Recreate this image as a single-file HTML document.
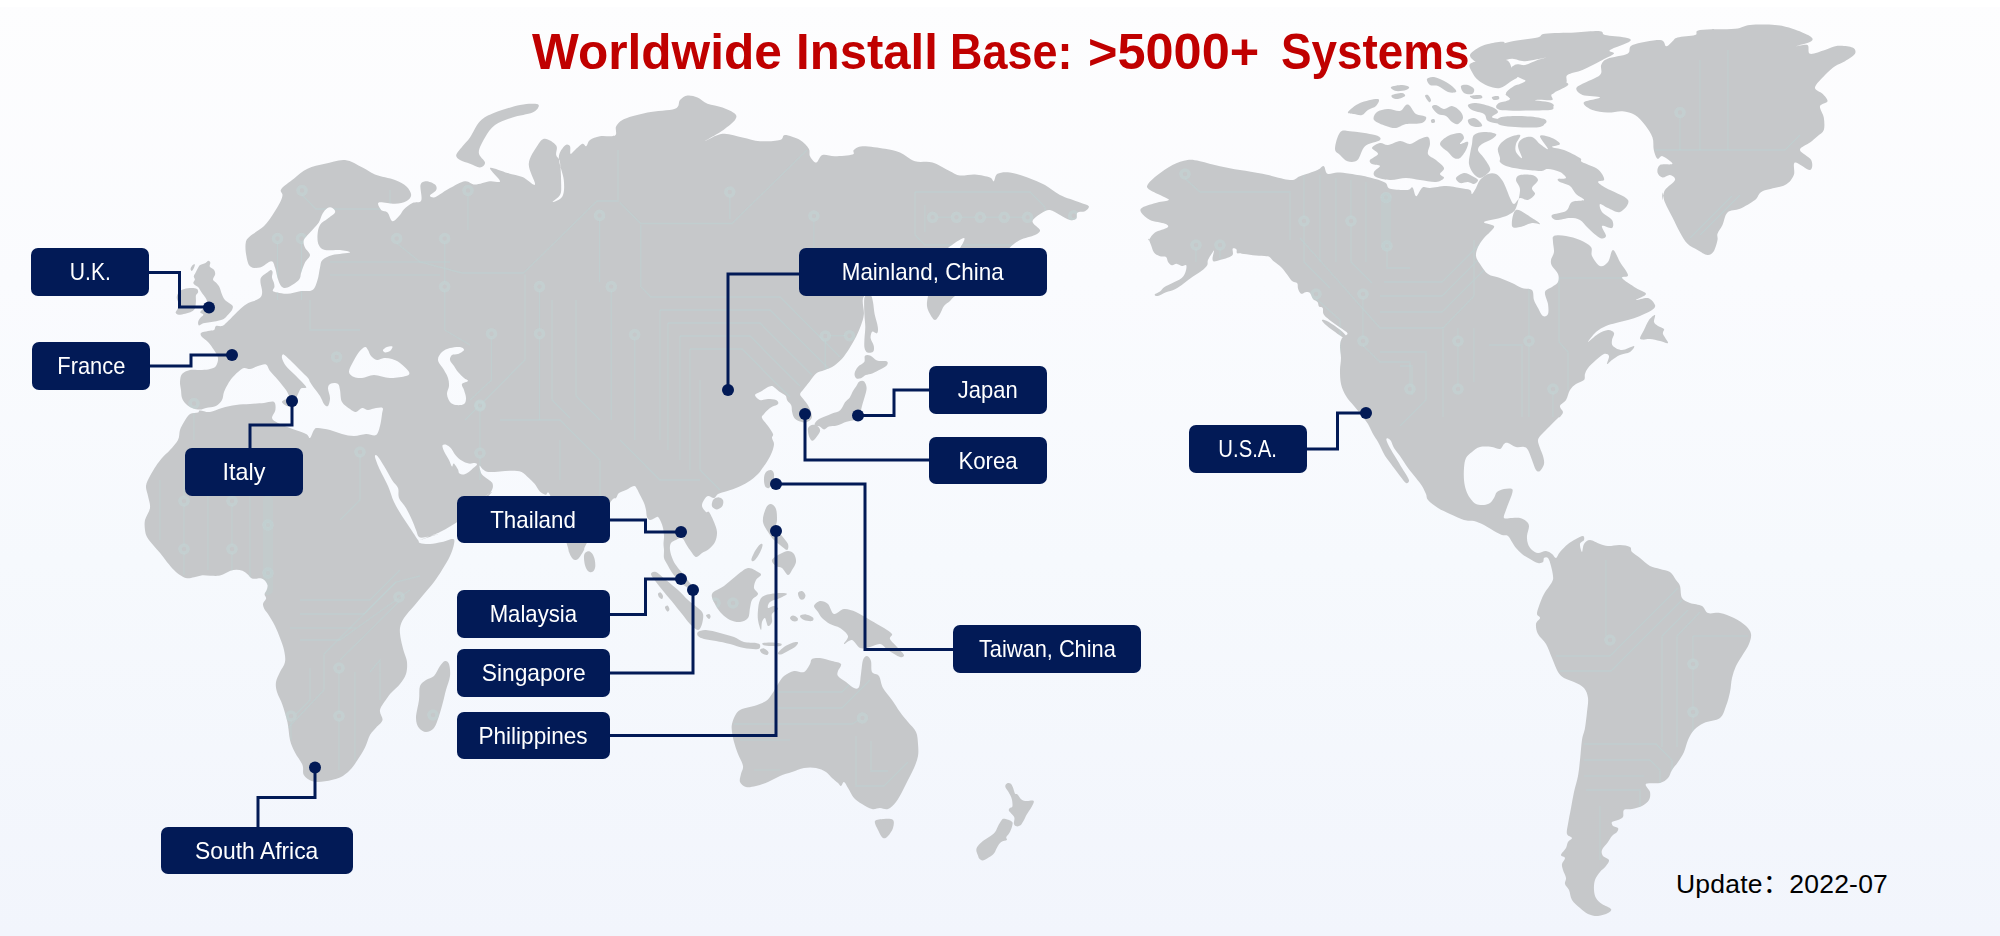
<!DOCTYPE html>
<html lang="en">
<head>
<meta charset="utf-8">
<title>Worldwide Install Base</title>
<style>
html,body{margin:0;padding:0;}
body{width:2000px;height:936px;overflow:hidden;position:relative;font-family:"Liberation Sans","Noto Sans CJK SC",sans-serif;
background:linear-gradient(180deg,#fdfdfe 0%,#fafbfe 30%,#f6f9fd 60%,#f2f5fc 100%);}
#map{position:absolute;left:0;top:0;width:2000px;height:936px;}
#title{position:absolute;left:0;top:22px;width:2000px;height:60px;line-height:60px;margin:0;font-size:50px;font-weight:bold;color:#c00000;white-space:nowrap;}
#title span{position:absolute;top:0;display:block;transform-origin:0 50%;}
.lb{position:absolute;background:#021a56;color:#fff;border-radius:7px;font-size:24px;text-align:center;white-space:nowrap;height:48px;line-height:48px;}
.lb span{display:inline-block;transform-origin:50% 50%;}
#upd{position:absolute;left:1676px;top:866px;font-size:26.5px;letter-spacing:0.2px;line-height:36px;color:#000;white-space:nowrap;}
</style>
</head>
<body>
<div id="topstrip" style="position:absolute;left:0;top:0;width:2000px;height:7px;background:#fff"></div>
<svg id="map" viewBox="0 0 2000 936">
<defs><mask id="lm" maskUnits="userSpaceOnUse" x="0" y="0" width="2000" height="936"><use href="#land" style="fill:#fff"/></mask></defs>
<g id="land" fill="#c6c8ca" stroke="none">
<!--LAND-->
<path fill-rule="evenodd" d="M226.9 322.2C229.0 320.4 232.1 317.1 234.4 314.8C236.7 312.5 238.5 310.3 240.8 308.4C243.1 306.4 245.6 304.4 248.3 303.0C250.9 301.6 254.7 300.9 256.8 299.8C258.9 298.7 260.2 298.0 261.1 296.6C262.0 295.2 262.2 293.6 262.1 291.3C262.1 289.0 260.7 285.0 260.5 282.7C260.4 280.4 260.1 279.0 261.1 277.4C262.1 275.8 264.8 274.4 266.4 273.1C268.0 271.9 269.7 270.1 270.7 269.9C271.7 269.7 272.4 270.8 272.6 272.0C272.8 273.3 271.8 275.6 272.0 277.4C272.2 279.2 273.5 281.1 273.9 282.7C274.3 284.3 274.6 285.7 274.4 287.0C274.3 288.3 272.3 289.8 272.8 290.7C273.3 291.7 275.1 292.0 277.5 292.5C279.9 293.0 283.8 294.0 287.5 293.8C291.2 293.5 295.8 291.9 300.0 291.2C304.2 290.6 309.6 291.9 312.5 290.0C315.4 288.1 316.2 283.8 317.5 280.0C318.8 276.2 319.2 270.8 320.0 267.5C320.8 264.2 320.4 262.1 322.5 260.0C324.6 257.9 327.9 256.2 332.5 255.0C337.1 253.8 348.8 253.3 350.0 252.5C351.2 251.7 344.2 250.4 340.0 250.0C335.8 249.6 328.5 250.8 325.0 250.0C321.5 249.2 320.0 247.5 318.8 245.0C317.5 242.5 317.3 238.3 317.5 235.0C317.7 231.7 318.3 227.7 320.0 225.0C321.7 222.3 325.0 220.8 327.5 218.8C330.0 216.7 334.2 214.3 335.0 212.5C335.8 210.7 333.8 208.8 332.5 208.0C331.2 207.2 329.2 207.0 327.5 208.0C325.8 209.0 324.0 211.3 322.5 213.8C321.0 216.2 320.8 219.4 318.8 222.5C316.7 225.6 312.5 229.6 310.0 232.5C307.5 235.4 304.6 237.5 303.8 240.0C302.9 242.5 304.0 245.0 305.0 247.5C306.0 250.0 310.0 252.5 310.0 255.0C310.0 257.5 306.5 259.6 305.0 262.5C303.5 265.4 302.3 269.6 301.2 272.5C300.2 275.4 301.0 277.5 298.8 280.0C296.5 282.5 290.4 286.5 287.5 287.5C284.6 288.5 282.9 287.9 281.2 286.2C279.6 284.6 278.5 280.6 277.5 277.5C276.5 274.4 276.0 270.2 275.0 267.5C274.0 264.8 273.8 261.2 271.2 261.2C268.8 261.2 263.5 266.7 260.0 267.5C256.5 268.3 252.3 268.3 250.0 266.2C247.7 264.2 247.0 259.0 246.2 255.0C245.5 251.0 245.1 245.6 245.8 242.5C246.4 239.4 247.0 239.0 250.0 236.2C253.0 233.5 260.0 229.8 263.8 226.2C267.5 222.7 269.8 219.0 272.5 215.0C275.2 211.0 278.3 205.8 280.0 202.5C281.7 199.2 282.3 197.2 282.5 195.0C282.7 192.8 279.4 192.0 281.2 189.2C283.1 186.5 289.4 182.2 293.8 178.8C298.1 175.3 302.3 171.2 307.5 168.8C312.7 166.2 318.8 165.2 325.0 163.8C331.2 162.3 338.8 159.4 345.0 160.0C351.2 160.6 357.5 165.1 362.5 167.5C367.5 169.9 369.6 172.4 375.0 174.5C380.4 176.6 389.8 178.0 395.0 180.0C400.2 182.0 403.5 183.8 406.2 186.2C409.0 188.8 411.2 192.5 411.2 195.0C411.2 197.5 409.0 199.8 406.2 201.2C403.5 202.7 399.6 203.5 395.0 203.8C390.4 204.0 381.0 201.5 378.8 202.5C376.5 203.5 379.8 208.3 381.2 210.0C382.7 211.7 385.6 210.6 387.5 212.5C389.4 214.4 390.4 220.8 392.5 221.2C394.6 221.7 398.1 217.0 400.0 215.0C401.9 213.0 401.7 211.5 403.8 209.5C405.8 207.5 409.6 204.5 412.5 203.0C415.4 201.5 419.9 203.5 421.2 200.5C422.6 197.5 419.7 188.2 420.5 185.0C421.3 181.8 423.8 181.3 426.2 181.2C428.7 181.2 433.3 183.0 435.0 184.5C436.7 186.0 437.1 188.2 436.2 190.0C435.4 191.8 430.4 194.2 430.0 195.5C429.6 196.8 432.1 197.7 433.8 197.5C435.4 197.3 437.3 195.8 440.0 194.2C442.7 192.7 445.8 190.2 450.0 188.0C454.2 185.8 460.8 181.8 465.0 181.2C469.2 180.7 470.8 184.5 475.0 184.5C479.2 184.5 485.8 181.8 490.0 181.2C494.2 180.7 500.0 183.5 500.0 181.2C500.0 179.0 488.8 169.4 490.0 168.0C491.2 166.6 502.1 171.5 507.5 173.0C512.9 174.5 517.9 175.1 522.5 177.0C527.1 178.9 534.0 186.7 535.0 184.5C536.0 182.3 528.3 170.2 528.8 163.8C529.2 157.2 534.8 149.7 537.5 145.5C540.2 141.3 541.9 138.8 545.0 138.8C548.1 138.8 554.4 142.8 556.2 145.5C558.1 148.2 555.6 152.2 556.2 155.0C556.9 157.8 559.2 157.5 560.0 162.5C560.8 167.5 561.2 179.6 561.2 185.0C561.2 190.4 561.5 192.2 560.0 195.0C558.5 197.8 552.1 201.8 552.5 202.0C552.9 202.2 560.6 199.9 562.5 196.2C564.4 192.6 564.4 186.5 563.8 180.0C563.1 173.5 558.5 163.2 558.8 157.5C559.0 151.8 563.1 147.4 565.0 145.5C566.9 143.6 569.1 144.9 570.0 146.2C570.9 147.6 569.7 153.1 570.5 153.8C571.3 154.4 573.0 151.7 575.0 150.0C577.0 148.3 580.6 144.4 582.5 143.8C584.4 143.1 585.0 146.9 586.2 146.2C587.5 145.6 587.7 141.7 590.0 140.0C592.3 138.3 595.8 137.0 600.0 136.2C604.2 135.5 612.3 137.2 615.0 135.5C617.7 133.8 614.6 129.0 616.2 126.2C617.9 123.5 619.8 121.0 625.0 118.8C630.2 116.5 639.2 114.2 647.5 112.5C655.8 110.8 669.6 110.8 675.0 108.8C680.4 106.7 677.9 102.2 680.0 100.0C682.1 97.8 684.6 95.9 687.5 95.5C690.4 95.1 694.2 96.1 697.5 97.5C700.8 98.9 703.3 102.1 707.5 103.8C711.7 105.4 717.9 105.8 722.5 107.5C727.1 109.2 732.9 111.7 735.0 113.8C737.1 115.8 736.7 117.5 735.0 120.0C733.3 122.5 727.9 126.5 725.0 128.8C722.1 131.0 720.8 131.7 717.5 133.8C714.2 135.8 704.2 141.2 705.0 141.2C705.8 141.2 716.2 134.4 722.5 133.8C728.8 133.1 736.2 136.2 742.5 137.5C748.8 138.8 753.8 140.8 760.0 141.2C766.2 141.7 775.8 141.0 780.0 140.0C784.2 139.0 781.7 135.0 785.0 135.0C788.3 135.0 796.0 137.7 800.0 140.0C804.0 142.3 807.1 146.0 808.8 148.8C810.4 151.5 808.8 154.0 810.0 156.2C811.2 158.5 814.2 162.7 816.2 162.5C818.3 162.3 819.4 156.0 822.5 155.0C825.6 154.0 830.0 156.3 835.0 156.2C840.0 156.2 849.4 155.5 852.5 154.5C855.6 153.5 852.1 151.4 853.8 150.0C855.4 148.6 857.3 146.5 862.5 146.2C867.7 146.0 878.8 147.7 885.0 148.8C891.2 149.8 895.0 150.4 900.0 152.5C905.0 154.6 909.6 159.6 915.0 161.2C920.4 162.9 926.7 160.8 932.5 162.5C938.3 164.2 945.4 169.1 950.0 171.2C954.6 173.4 955.8 175.0 960.0 175.5C964.2 176.0 970.0 174.2 975.0 174.5C980.0 174.8 986.9 176.4 990.0 177.5C993.1 178.6 992.5 181.9 993.8 181.2C995.0 180.6 994.8 175.2 997.5 173.8C1000.2 172.3 1005.0 171.9 1010.0 172.5C1015.0 173.1 1021.7 175.4 1027.5 177.5C1033.3 179.6 1039.6 182.1 1045.0 185.0C1050.4 187.9 1054.2 192.1 1060.0 195.0C1065.8 197.9 1075.2 200.6 1080.0 202.5C1084.8 204.4 1087.9 204.8 1088.8 206.2C1089.6 207.7 1086.9 210.2 1085.0 211.2C1083.1 212.3 1079.0 211.2 1077.5 212.5C1076.0 213.8 1077.5 217.5 1076.2 218.8C1075.0 220.0 1072.7 220.6 1070.0 220.0C1067.3 219.4 1063.3 216.7 1060.0 215.0C1056.7 213.3 1052.9 210.4 1050.0 210.0C1047.1 209.6 1045.4 210.6 1042.5 212.5C1039.6 214.4 1032.9 218.3 1032.5 221.2C1032.1 224.2 1039.6 227.7 1040.0 230.0C1040.4 232.3 1038.3 233.3 1035.0 235.0C1031.7 236.7 1024.2 237.9 1020.0 240.0C1015.8 242.1 1013.3 244.5 1010.0 247.5C1006.7 250.5 1005.0 253.2 1000.0 258.0C995.0 262.8 987.5 269.7 980.0 276.0C972.5 282.3 960.0 291.8 955.0 296.0C950.0 300.2 951.8 299.3 950.0 301.0C948.2 302.7 945.7 303.8 944.0 306.0C942.3 308.2 941.5 311.7 940.0 314.0C938.5 316.3 936.7 320.0 935.0 320.0C933.3 320.0 931.3 316.3 930.0 314.0C928.7 311.7 927.3 309.0 927.0 306.0C926.7 303.0 927.2 300.3 928.0 296.0C928.8 291.7 930.3 286.0 932.0 280.0C933.7 274.0 935.3 265.3 938.0 260.0C940.7 254.7 943.7 251.7 948.0 248.0C952.3 244.3 962.0 238.0 964.0 238.0C966.0 238.0 962.0 245.0 960.0 248.0C958.0 251.0 955.3 255.7 952.0 256.0C948.7 256.3 944.0 250.3 940.0 250.0C936.0 249.7 933.0 252.0 928.0 254.0C923.0 256.0 916.0 258.3 910.0 262.0C904.0 265.7 897.7 271.3 892.0 276.0C886.3 280.7 880.8 286.5 876.0 290.0C871.2 293.5 865.4 293.2 863.4 297.2C861.4 301.2 864.3 309.4 863.9 314.0C863.5 318.7 862.3 321.5 861.0 325.3C859.7 329.0 858.1 332.8 856.2 336.5C854.3 340.2 852.2 344.0 849.8 347.7C847.4 351.5 844.7 355.7 841.8 358.9C838.8 362.1 835.1 365.1 832.1 367.0C829.2 368.8 826.8 369.1 824.1 370.2C821.5 371.2 818.5 371.5 816.1 373.4C813.7 375.2 811.8 378.7 809.7 381.4C807.6 384.1 804.9 387.3 803.3 389.4C801.7 391.5 800.1 392.6 800.1 394.2C800.1 395.8 802.0 397.1 803.3 399.0C804.6 400.9 806.8 403.3 808.1 405.4C809.4 407.6 810.4 409.7 811.0 411.8C811.6 414.0 812.4 416.5 811.6 418.3C810.9 420.0 808.4 421.7 806.5 422.3C804.6 422.8 802.1 422.1 800.1 421.5C798.1 420.8 795.8 419.9 794.5 418.3C793.1 416.7 792.6 414.0 792.1 411.8C791.5 409.7 792.1 407.3 791.3 405.4C790.5 403.6 788.2 402.2 787.3 400.6C786.3 399.0 786.7 397.1 785.7 395.8C784.6 394.5 783.0 394.2 780.8 392.6C778.7 391.0 774.3 387.3 772.8 386.2C771.4 385.1 772.8 385.9 772.0 386.0C771.2 386.1 770.0 386.0 768.0 387.0C766.0 388.0 762.2 390.7 760.0 392.0C757.8 393.3 755.0 393.7 755.0 395.0C755.0 396.3 757.8 399.3 760.0 400.0C762.2 400.7 765.3 399.0 768.0 399.0C770.7 399.0 774.3 399.2 776.0 400.0C777.7 400.8 779.0 402.7 778.0 404.0C777.0 405.3 772.3 406.3 770.0 408.0C767.7 409.7 765.3 412.3 764.0 414.0C762.7 415.7 761.3 416.0 762.0 418.0C762.7 420.0 766.2 423.3 768.0 426.0C769.8 428.7 772.3 432.0 773.0 434.0C773.7 436.0 771.8 436.3 772.0 438.0C772.2 439.7 774.0 441.7 774.0 444.0C774.0 446.3 773.0 449.3 772.0 452.0C771.0 454.7 769.3 457.7 768.0 460.0C766.7 462.3 765.7 463.7 764.0 466.0C762.3 468.3 760.7 471.3 758.0 474.0C755.3 476.7 751.7 479.7 748.0 482.0C744.3 484.3 740.0 486.3 736.0 488.0C732.0 489.7 727.0 491.0 724.0 492.0C721.0 493.0 719.7 493.0 718.0 494.0C716.3 495.0 715.7 497.7 714.0 498.0C712.3 498.3 709.7 495.7 708.0 496.0C706.3 496.3 705.0 498.3 704.0 500.0C703.0 501.7 701.7 504.0 702.0 506.0C702.3 508.0 704.8 511.0 706.0 512.0C707.2 513.0 707.7 510.3 709.0 512.0C710.3 513.7 712.7 518.7 714.0 522.0C715.3 525.3 716.8 528.7 717.0 532.0C717.2 535.3 716.3 539.2 715.0 542.0C713.7 544.8 711.2 547.2 709.0 549.0C706.8 550.8 704.2 551.7 702.0 553.0C699.8 554.3 698.0 557.5 696.0 557.0C694.0 556.5 691.7 552.2 690.0 550.0C688.3 547.8 687.3 546.0 686.0 544.0C684.7 542.0 683.7 538.7 682.0 538.0C680.3 537.3 677.8 539.2 676.0 540.0C674.2 540.8 672.0 541.3 671.0 543.0C670.0 544.7 669.7 547.2 670.0 550.0C670.3 552.8 671.7 557.0 673.0 560.0C674.3 563.0 676.2 565.5 678.0 568.0C679.8 570.5 682.2 572.7 684.0 575.0C685.8 577.3 687.3 579.8 689.0 582.0C690.7 584.2 693.0 586.2 694.0 588.0C695.0 589.8 696.0 593.0 695.0 593.0C694.0 593.0 690.5 589.8 688.0 588.0C685.5 586.2 682.5 584.3 680.0 582.0C677.5 579.7 675.2 577.0 673.0 574.0C670.8 571.0 668.5 566.7 667.0 564.0C665.5 561.3 664.5 560.3 664.0 558.0C663.5 555.7 664.1 552.3 664.0 550.0C663.9 547.7 663.5 546.3 663.5 544.0C663.5 541.7 664.1 538.7 664.0 536.0C663.9 533.3 663.5 530.3 663.0 528.0C662.5 525.7 661.8 523.8 661.0 522.0C660.2 520.2 659.0 517.7 658.0 517.0C657.0 516.3 656.3 517.5 655.0 518.0C653.7 518.5 651.3 520.2 650.0 520.0C648.7 519.8 647.7 518.7 647.0 517.0C646.3 515.3 646.5 512.3 646.0 510.0C645.5 507.7 645.0 505.5 644.0 503.0C643.0 500.5 641.2 497.3 640.0 495.0C638.8 492.7 638.0 490.5 637.0 489.0C636.0 487.5 635.8 485.8 634.0 486.0C632.2 486.2 628.5 488.8 626.0 490.0C623.5 491.2 620.7 491.7 619.0 493.0C617.3 494.3 617.5 496.3 616.0 498.0C614.5 499.7 614.8 495.5 610.0 503.0C605.2 510.5 591.3 535.0 587.0 542.8C582.7 550.6 585.0 548.0 584.0 550.0C583.0 552.0 582.0 553.5 581.0 555.0C580.0 556.5 579.0 558.2 578.0 559.0C577.0 559.8 576.0 560.2 575.0 560.0C574.0 559.8 573.0 559.3 572.0 558.0C571.0 556.7 569.9 554.5 569.0 552.0C568.1 549.5 569.6 552.3 566.5 543.0C563.4 533.7 553.9 504.0 550.4 496.0C546.9 488.0 547.4 495.6 545.6 494.8C543.8 494.0 541.4 493.0 539.6 491.2C537.8 489.4 536.6 486.2 534.8 484.0C533.0 481.8 531.0 480.0 528.8 478.0C526.6 476.0 524.4 473.2 521.6 472.0C518.8 470.8 515.6 470.9 512.0 470.8C508.4 470.7 504.0 471.2 500.0 471.4C496.0 471.6 490.8 472.3 488.0 472.0C485.2 471.7 484.6 470.7 483.2 469.6C481.8 468.5 480.1 465.3 479.6 465.4C479.1 465.5 479.8 468.7 480.2 470.2C480.6 471.7 480.7 472.9 482.0 474.4C483.3 475.9 486.3 477.8 488.0 479.2C489.7 480.6 491.4 481.4 492.2 482.8C493.0 484.2 493.1 486.0 492.8 487.6C492.5 489.2 491.6 491.0 490.4 492.4C489.2 493.8 485.3 496.1 485.6 496.0C485.9 495.9 492.9 490.7 492.0 492.0C491.1 493.3 485.3 499.3 480.0 504.0C474.7 508.7 466.7 515.3 460.0 520.0C453.3 524.7 446.7 528.7 440.0 532.0C433.3 535.3 420.3 539.7 420.0 540.0C419.7 540.3 437.0 534.5 438.0 534.0C439.0 533.5 429.2 536.5 426.0 537.0C422.8 537.5 420.7 538.2 419.0 537.0C417.3 535.8 417.2 532.8 416.0 530.0C414.8 527.2 413.7 523.7 412.0 520.0C410.3 516.3 408.2 511.7 406.0 508.0C403.8 504.3 400.3 501.3 399.0 498.0C397.7 494.7 399.2 491.0 398.0 488.0C396.8 485.0 394.3 483.7 392.0 480.0C389.7 476.3 386.4 470.0 384.0 466.0C381.6 462.0 378.9 457.5 377.4 456.0C375.9 454.5 374.6 454.7 375.0 457.0C375.4 459.3 377.8 465.2 380.0 470.0C382.2 474.8 385.7 480.7 388.0 486.0C390.3 491.3 391.7 497.0 394.0 502.0C396.3 507.0 399.3 511.7 402.0 516.0C404.7 520.3 407.3 524.0 410.0 528.0C412.7 532.0 416.3 537.5 418.0 540.0C419.7 542.5 418.0 542.3 420.0 543.0C422.0 543.7 426.3 544.2 430.0 544.0C433.7 543.8 438.2 542.8 442.0 542.0C445.8 541.2 451.0 538.7 453.0 539.0C455.0 539.3 454.5 541.2 454.0 544.0C453.5 546.8 452.0 551.7 450.0 556.0C448.0 560.3 444.7 565.7 442.0 570.0C439.3 574.3 437.0 578.0 434.0 582.0C431.0 586.0 427.3 590.0 424.0 594.0C420.7 598.0 417.3 602.0 414.0 606.0C410.7 610.0 406.3 614.3 404.0 618.0C401.7 621.7 400.5 624.3 400.0 628.0C399.5 631.7 400.3 636.0 401.0 640.0C401.7 644.0 403.0 648.3 404.0 652.0C405.0 655.7 406.7 658.3 407.0 662.0C407.3 665.7 407.2 670.3 406.0 674.0C404.8 677.7 402.3 681.0 400.0 684.0C397.7 687.0 394.1 689.8 392.0 692.0C389.9 694.2 389.5 694.5 387.5 697.5C385.5 700.5 380.8 706.2 380.0 710.0C379.2 713.8 383.1 717.1 382.5 720.0C381.9 722.9 378.3 725.0 376.2 727.5C374.2 730.0 371.9 731.7 370.0 735.0C368.1 738.3 367.1 743.3 365.0 747.5C362.9 751.7 360.0 756.2 357.5 760.0C355.0 763.8 352.9 767.1 350.0 770.0C347.1 772.9 344.2 775.6 340.0 777.5C335.8 779.4 329.6 780.6 325.0 781.2C320.4 781.9 316.0 782.3 312.5 781.2C309.0 780.2 305.4 777.7 303.8 775.0C302.1 772.3 304.0 768.8 302.5 765.0C301.0 761.2 297.1 756.7 295.0 752.5C292.9 748.3 291.2 745.0 290.0 740.0C288.8 735.0 288.8 728.3 287.5 722.5C286.2 716.7 284.2 710.1 282.5 705.0C280.8 699.9 278.1 695.8 277.0 692.0C275.9 688.2 275.5 685.3 276.0 682.0C276.5 678.7 278.5 675.3 280.0 672.0C281.5 668.7 284.3 665.7 285.0 662.0C285.7 658.3 284.8 654.0 284.0 650.0C283.2 646.0 281.5 642.0 280.0 638.0C278.5 634.0 277.0 630.0 275.0 626.0C273.0 622.0 269.8 616.9 268.0 614.0C266.2 611.1 264.9 610.2 264.1 608.4C263.2 606.6 262.7 605.0 263.1 603.4C263.4 601.7 265.8 599.9 266.1 598.4C266.3 596.8 264.5 595.7 264.6 594.3C264.6 593.0 266.1 591.8 266.6 590.3C267.1 588.8 267.9 587.0 267.6 585.3C267.2 583.6 265.7 581.4 264.6 580.3C263.4 579.1 262.0 578.5 260.5 578.3C259.0 578.0 257.0 578.8 255.5 578.8C254.0 578.8 252.8 579.0 251.5 578.3C250.2 577.5 249.0 575.5 247.5 574.2C246.0 573.0 244.3 571.5 242.5 570.7C240.6 570.0 238.4 569.7 236.4 569.7C234.4 569.7 232.4 570.1 230.4 570.7C228.4 571.4 226.4 572.9 224.4 573.7C222.4 574.6 220.7 575.4 218.4 575.8C216.0 576.1 213.0 575.8 210.3 575.8C207.6 575.7 205.0 575.0 202.3 575.2C199.6 575.5 196.8 576.8 194.2 577.3C191.7 577.8 189.4 578.5 187.2 578.3C185.0 578.0 183.4 577.1 181.2 575.8C179.0 574.4 176.5 572.5 174.2 570.2C171.8 568.0 169.5 565.0 167.1 562.2C164.8 559.3 162.4 556.0 160.1 553.1C157.7 550.3 155.2 547.8 153.1 545.1C150.9 542.4 148.4 539.6 147.0 537.1C145.7 534.6 145.4 532.9 145.0 530.0C144.7 527.2 144.2 523.7 145.0 520.0C145.9 516.3 149.5 512.0 150.0 508.0C150.5 504.0 148.7 499.7 148.0 496.0C147.3 492.3 145.7 489.3 146.0 486.0C146.3 482.7 148.3 479.3 150.0 476.0C151.7 472.7 154.0 469.0 156.0 466.0C158.0 463.0 159.7 460.7 162.0 458.0C164.3 455.3 167.3 453.0 170.0 450.0C172.7 447.0 176.3 443.3 178.0 440.0C179.7 436.7 179.0 433.0 180.0 430.0C181.0 427.0 182.3 424.7 184.0 422.0C185.7 419.3 187.7 415.6 190.0 414.0C192.3 412.4 196.3 413.0 198.0 412.4C199.7 411.8 198.0 410.5 200.0 410.4C202.0 410.3 206.3 412.4 210.0 412.0C213.7 411.6 217.7 409.2 222.0 408.0C226.3 406.8 231.3 405.7 236.0 405.0C240.7 404.3 245.3 404.3 250.0 404.0C254.7 403.7 260.0 403.3 264.0 403.0C268.0 402.7 272.1 400.8 274.0 402.0C275.9 403.2 275.7 407.3 275.4 410.0C275.1 412.7 271.6 415.8 272.0 418.0C272.4 420.2 275.0 421.3 278.0 423.0C281.0 424.7 285.3 426.2 290.0 428.0C294.7 429.8 302.7 432.3 306.0 434.0C309.3 435.7 308.7 438.7 310.0 438.0C311.3 437.3 312.7 431.7 314.0 430.0C315.3 428.3 315.3 428.0 318.0 428.0C320.7 428.0 326.0 429.0 330.0 430.0C334.0 431.0 338.0 433.0 342.0 434.0C346.0 435.0 350.0 436.0 354.0 436.0C358.0 436.0 362.3 434.2 366.0 434.0C369.7 433.8 373.7 436.3 376.0 435.0C378.3 433.7 379.0 429.5 380.0 426.0C381.0 422.5 381.6 417.0 382.0 414.0C382.4 411.0 383.6 409.0 382.6 408.0C381.6 407.0 378.4 407.7 376.0 408.0C373.6 408.3 370.3 410.0 368.0 410.0C365.7 410.0 364.0 407.7 362.0 408.0C360.0 408.3 358.0 411.8 356.0 412.0C354.0 412.2 352.3 410.7 350.0 409.0C347.7 407.3 343.7 405.2 342.0 402.0C340.3 398.8 340.7 393.0 340.0 390.0C339.3 387.0 339.5 385.1 338.0 384.0C336.5 382.9 332.7 382.9 331.0 383.6C329.3 384.3 328.2 385.6 328.0 388.0C327.8 390.4 330.0 395.0 330.0 398.0C330.0 401.0 329.0 405.0 328.0 406.0C327.0 407.0 325.3 405.7 324.0 404.0C322.7 402.3 321.7 398.7 320.0 396.0C318.3 393.3 315.7 390.3 314.0 388.0C312.3 385.7 311.0 383.7 310.0 382.0C309.0 380.3 309.7 380.0 308.0 378.0C306.3 376.0 303.0 373.0 300.0 370.0C297.0 367.0 292.7 362.6 290.0 360.0C287.3 357.4 284.9 354.7 283.6 354.4C282.3 354.1 281.6 356.1 282.0 358.0C282.4 359.9 284.0 363.3 286.0 366.0C288.0 368.7 291.3 371.3 294.0 374.0C296.7 376.7 299.9 379.7 302.0 382.0C304.1 384.3 306.6 386.5 306.4 387.6C306.2 388.7 302.4 387.3 301.0 388.4C299.6 389.5 299.0 392.2 298.0 394.0C297.0 395.8 296.3 398.5 295.0 399.0C293.7 399.5 291.5 398.5 290.0 397.0C288.5 395.5 288.0 392.8 286.0 390.0C284.0 387.2 280.7 383.2 278.0 380.0C275.3 376.8 272.0 373.6 270.0 371.0C268.0 368.4 268.0 365.2 266.0 364.4C264.0 363.6 260.7 365.2 258.0 366.0C255.3 366.8 252.3 368.7 250.0 369.0C247.7 369.3 246.0 367.5 244.0 368.0C242.0 368.5 240.0 370.3 238.0 372.0C236.0 373.7 233.7 376.0 232.0 378.0C230.3 380.0 229.3 381.7 228.0 384.0C226.7 386.3 225.0 389.3 224.0 392.0C223.0 394.7 223.3 397.7 222.0 400.0C220.7 402.3 218.7 404.7 216.0 406.0C213.3 407.3 208.7 407.4 206.0 408.0C203.3 408.6 202.3 409.6 200.0 409.6C197.7 409.6 194.3 408.9 192.0 408.0C189.7 407.1 187.7 405.7 186.0 404.0C184.3 402.3 182.8 400.3 182.0 398.0C181.2 395.7 181.3 392.7 181.0 390.0C180.7 387.3 179.8 384.7 180.0 382.0C180.2 379.3 180.3 376.0 182.0 374.0C183.7 372.0 186.7 370.7 190.0 370.0C193.3 369.3 198.7 370.2 202.0 370.0C205.3 369.8 207.7 369.7 210.0 369.0C212.3 368.3 214.7 367.8 216.0 366.0C217.3 364.2 218.3 360.7 218.0 358.0C217.7 355.3 215.7 352.7 214.0 350.0C212.3 347.3 210.0 344.2 208.0 342.0C206.0 339.8 203.2 338.5 202.0 337.0C200.8 335.5 200.0 334.0 201.0 333.0C202.0 332.0 205.8 331.5 208.0 331.0C210.2 330.5 212.7 330.8 214.0 330.0C215.3 329.2 214.7 326.7 216.0 326.0C217.3 325.3 220.2 326.6 222.0 326.0C223.8 325.4 224.8 324.1 226.9 322.2ZM349.0 372.0C348.8 369.5 351.3 365.3 353.0 362.0C354.7 358.7 357.0 354.5 359.0 352.0C361.0 349.5 363.5 347.3 365.0 347.0C366.5 346.7 367.0 348.5 368.0 350.0C369.0 351.5 369.5 354.3 371.0 356.0C372.5 357.7 374.8 359.7 377.0 360.0C379.2 360.3 381.5 358.2 384.0 358.0C386.5 357.8 389.3 358.2 392.0 359.0C394.7 359.8 397.2 360.8 400.0 363.0C402.8 365.2 408.0 369.8 409.0 372.0C410.0 374.2 409.2 375.0 406.0 376.0C402.8 377.0 395.3 378.2 390.0 378.0C384.7 377.8 378.7 375.0 374.0 375.0C369.3 375.0 365.3 377.7 362.0 378.0C358.7 378.3 356.2 378.0 354.0 377.0C351.8 376.0 349.2 374.5 349.0 372.0ZM383.0 350.0C383.3 349.1 385.4 347.6 387.0 347.0C388.6 346.4 391.9 345.9 392.4 346.6C392.9 347.3 391.2 350.0 390.0 351.0C388.8 352.0 386.2 352.6 385.0 352.4C383.8 352.2 382.7 350.9 383.0 350.0ZM438.0 360.0C437.7 357.0 440.0 354.0 442.0 352.0C444.0 350.0 447.0 348.8 450.0 348.0C453.0 347.2 457.7 346.7 460.0 347.0C462.3 347.3 464.3 348.8 464.0 350.0C463.7 351.2 460.0 353.2 458.0 354.0C456.0 354.8 453.3 354.0 452.0 355.0C450.7 356.0 449.7 358.2 450.0 360.0C450.3 361.8 452.7 364.0 454.0 366.0C455.3 368.0 456.3 370.0 458.0 372.0C459.7 374.0 462.3 376.5 464.0 378.0C465.7 379.5 468.3 380.0 468.0 381.0C467.7 382.0 462.7 382.5 462.0 384.0C461.3 385.5 463.3 387.7 464.0 390.0C464.7 392.3 466.0 395.7 466.0 398.0C466.0 400.3 465.7 402.8 464.0 404.0C462.3 405.2 458.3 405.3 456.0 405.0C453.7 404.7 451.5 403.8 450.0 402.0C448.5 400.2 447.2 396.7 447.0 394.0C446.8 391.3 448.8 388.7 449.0 386.0C449.2 383.3 448.8 380.7 448.0 378.0C447.2 375.3 445.7 373.0 444.0 370.0C442.3 367.0 438.3 363.0 438.0 360.0ZM442.4 446.2C442.3 444.8 443.5 444.8 444.2 444.6C444.9 444.4 445.5 444.4 446.6 445.0C447.7 445.6 449.3 446.3 450.8 448.0C452.3 449.7 453.8 453.1 455.6 455.2C457.4 457.3 459.4 459.2 461.6 460.6C463.8 462.0 466.6 463.2 468.8 463.6C471.0 464.0 473.4 462.9 474.8 463.0C476.2 463.1 477.2 463.6 477.0 464.4C476.8 465.2 475.0 466.5 473.6 467.8C472.2 469.1 470.4 470.9 468.8 472.0C467.2 473.1 465.6 474.2 464.0 474.4C462.4 474.6 460.2 474.0 459.2 473.2C458.2 472.4 458.9 471.2 458.0 469.6C457.1 468.0 454.8 464.1 453.8 463.6C452.8 463.1 452.8 467.2 452.0 466.6C451.2 466.0 450.2 462.3 449.0 460.0C447.8 457.7 445.9 455.1 444.8 452.8C443.7 450.5 442.5 447.6 442.4 446.2Z"/>
<path d="M1148.8 240.0C1149.8 238.9 1151.9 234.6 1155.0 232.5C1158.1 230.4 1165.8 229.0 1167.5 227.5C1169.2 226.0 1167.9 225.0 1165.0 223.8C1162.1 222.5 1154.0 221.9 1150.0 220.0C1146.0 218.1 1142.5 214.6 1141.2 212.5C1140.0 210.4 1139.8 209.2 1142.5 207.5C1145.2 205.8 1153.1 203.8 1157.5 202.5C1161.9 201.2 1167.9 201.0 1168.8 200.0C1169.6 199.0 1165.6 197.9 1162.5 196.2C1159.4 194.6 1152.5 191.9 1150.0 190.0C1147.5 188.1 1146.2 187.5 1147.5 185.0C1148.8 182.5 1153.3 178.3 1157.5 175.0C1161.7 171.7 1167.5 167.5 1172.5 165.0C1177.5 162.5 1182.9 160.6 1187.5 160.0C1192.1 159.4 1194.6 160.2 1200.0 161.2C1205.4 162.3 1213.3 164.8 1220.0 166.2C1226.7 167.7 1232.9 168.8 1240.0 170.0C1247.1 171.2 1254.2 172.1 1262.5 173.8C1270.8 175.4 1283.8 179.6 1290.0 180.0C1296.2 180.4 1295.4 177.9 1300.0 176.2C1304.6 174.6 1313.5 171.7 1317.5 170.0C1321.5 168.3 1322.1 165.6 1323.8 166.2C1325.4 166.9 1325.2 172.7 1327.5 173.8C1329.8 174.8 1333.8 172.5 1337.5 172.5C1341.2 172.5 1344.6 172.9 1350.0 173.8C1355.4 174.6 1364.2 176.0 1370.0 177.5C1375.8 179.0 1381.7 180.6 1385.0 182.5C1388.3 184.4 1386.2 187.5 1390.0 188.8C1393.8 190.0 1403.8 190.2 1407.5 190.0C1411.2 189.8 1411.0 186.5 1412.5 187.5C1414.0 188.5 1414.6 196.2 1416.2 196.2C1417.9 196.2 1420.2 188.9 1422.5 187.5C1424.8 186.1 1426.1 188.2 1430.0 188.0C1433.9 187.8 1441.0 186.0 1446.0 186.0C1451.0 186.0 1456.0 187.3 1460.0 188.0C1464.0 188.7 1468.0 189.0 1470.0 190.0C1472.0 191.0 1471.0 194.3 1472.0 194.0C1473.0 193.7 1474.7 190.3 1476.0 188.0C1477.3 185.7 1478.0 182.3 1480.0 180.0C1482.0 177.7 1485.3 175.0 1488.0 174.0C1490.7 173.0 1493.7 173.0 1496.0 174.0C1498.3 175.0 1500.3 177.7 1502.0 180.0C1503.7 182.3 1504.7 185.0 1506.0 188.0C1507.3 191.0 1508.7 195.3 1510.0 198.0C1511.3 200.7 1512.3 204.0 1514.0 204.0C1515.7 204.0 1517.7 198.7 1520.0 198.0C1522.3 197.3 1525.5 200.7 1528.0 200.0C1530.5 199.3 1534.3 196.0 1535.0 194.0C1535.7 192.0 1531.5 190.3 1532.0 188.0C1532.5 185.7 1538.0 182.2 1538.0 180.0C1538.0 177.8 1535.0 175.8 1532.0 175.0C1529.0 174.2 1522.7 174.2 1520.0 175.0C1517.3 175.8 1516.0 177.5 1516.0 180.0C1516.0 182.5 1520.0 185.3 1520.0 190.0C1520.0 194.7 1517.7 204.0 1516.0 208.0C1514.3 212.0 1512.7 212.3 1510.0 214.0C1507.3 215.7 1504.3 216.7 1500.0 218.0C1495.7 219.3 1485.0 220.7 1484.0 222.0C1483.0 223.3 1493.0 224.3 1494.0 226.0C1495.0 227.7 1491.7 230.0 1490.0 232.0C1488.3 234.0 1486.0 235.5 1484.0 238.0C1482.0 240.5 1479.3 244.0 1478.0 247.0C1476.7 250.0 1475.7 253.2 1476.0 256.0C1476.3 258.8 1478.0 261.0 1480.0 264.0C1482.0 267.0 1484.7 271.7 1488.0 274.0C1491.3 276.3 1496.0 276.5 1500.0 278.0C1504.0 279.5 1508.3 281.3 1512.0 283.0C1515.7 284.7 1518.7 286.8 1522.0 288.0C1525.3 289.2 1530.0 288.0 1532.0 290.0C1534.0 292.0 1533.0 297.0 1534.0 300.0C1535.0 303.0 1536.5 305.3 1538.0 308.0C1539.5 310.7 1541.3 315.0 1543.0 316.0C1544.7 317.0 1547.2 316.0 1548.0 314.0C1548.8 312.0 1548.5 307.7 1548.0 304.0C1547.5 300.3 1544.3 294.8 1545.0 292.0C1545.7 289.2 1549.8 288.7 1552.0 287.0C1554.2 285.3 1557.0 284.2 1558.0 282.0C1559.0 279.8 1559.0 276.7 1558.0 274.0C1557.0 271.3 1553.2 268.3 1552.0 266.0C1550.8 263.7 1550.7 262.3 1551.0 260.0C1551.3 257.7 1553.7 255.0 1554.0 252.0C1554.3 249.0 1553.0 244.7 1553.0 242.0C1553.0 239.3 1551.8 237.0 1554.0 236.0C1556.2 235.0 1561.7 235.3 1566.0 236.0C1570.3 236.7 1575.8 238.2 1580.0 240.0C1584.2 241.8 1589.0 244.3 1591.0 247.0C1593.0 249.7 1590.5 252.8 1592.0 256.0C1593.5 259.2 1597.3 265.0 1600.0 266.0C1602.7 267.0 1605.8 264.7 1608.0 262.0C1610.2 259.3 1611.0 250.0 1613.0 250.0C1615.0 250.0 1617.5 257.8 1620.0 262.0C1622.5 266.2 1627.7 272.3 1628.0 275.0C1628.3 277.7 1620.7 275.8 1622.0 278.0C1623.3 280.2 1632.0 285.3 1636.0 288.0C1640.0 290.7 1646.0 292.0 1646.0 294.0C1646.0 296.0 1635.7 299.3 1636.0 300.0C1636.3 300.7 1644.8 297.2 1648.0 298.0C1651.2 298.8 1654.3 303.0 1655.0 305.0C1655.7 307.0 1654.5 308.2 1652.0 310.0C1649.5 311.8 1644.0 314.3 1640.0 316.0C1636.0 317.7 1632.0 318.8 1628.0 320.0C1624.0 321.2 1619.7 322.0 1616.0 323.0C1612.3 324.0 1609.3 324.5 1606.0 326.0C1602.7 327.5 1599.0 329.3 1596.0 332.0C1593.0 334.7 1587.7 341.7 1588.0 342.0C1588.3 342.3 1594.7 336.0 1598.0 334.0C1601.3 332.0 1605.3 330.2 1608.0 330.0C1610.7 329.8 1613.3 331.3 1614.0 333.0C1614.7 334.7 1612.2 337.8 1612.0 340.0C1611.8 342.2 1611.3 344.3 1613.0 346.0C1614.7 347.7 1618.5 350.0 1622.0 350.0C1625.5 350.0 1632.7 345.7 1634.0 346.0C1635.3 346.3 1632.3 350.5 1630.0 352.0C1627.7 353.5 1623.0 353.7 1620.0 355.0C1617.0 356.3 1614.2 358.5 1612.0 360.0C1609.8 361.5 1607.5 364.7 1607.0 364.0C1606.5 363.3 1609.5 357.7 1609.0 356.0C1608.5 354.3 1606.2 353.3 1604.0 354.0C1601.8 354.7 1598.7 357.7 1596.0 360.0C1593.3 362.3 1589.8 365.7 1588.0 368.0C1586.2 370.3 1585.7 372.0 1585.0 374.0C1584.3 376.0 1585.5 378.3 1584.0 380.0C1582.5 381.7 1578.3 382.3 1576.0 384.0C1573.7 385.7 1571.7 387.3 1570.0 390.0C1568.3 392.7 1567.7 397.3 1566.0 400.0C1564.3 402.7 1560.5 404.0 1560.0 406.0C1559.5 408.0 1563.0 410.2 1563.0 412.0C1563.0 413.8 1560.8 416.0 1560.0 417.0C1559.2 418.0 1559.7 416.5 1558.0 418.0C1556.3 419.5 1552.7 423.3 1550.0 426.0C1547.3 428.7 1544.0 431.7 1542.0 434.0C1540.0 436.3 1538.3 437.7 1538.0 440.0C1537.7 442.3 1539.2 445.3 1540.0 448.0C1540.8 450.7 1542.3 453.3 1543.0 456.0C1543.7 458.7 1544.5 461.5 1544.0 464.0C1543.5 466.5 1541.3 470.0 1540.0 471.0C1538.7 472.0 1537.3 471.8 1536.0 470.0C1534.7 468.2 1533.3 463.3 1532.0 460.0C1530.7 456.7 1529.3 452.2 1528.0 450.0C1526.7 447.8 1526.0 447.5 1524.0 447.0C1522.0 446.5 1518.7 447.7 1516.0 447.0C1513.3 446.3 1510.0 443.5 1508.0 443.0C1506.0 442.5 1505.3 443.0 1504.0 444.0C1502.7 445.0 1502.0 448.5 1500.0 449.0C1498.0 449.5 1495.3 447.3 1492.0 447.0C1488.7 446.7 1483.3 446.2 1480.0 447.0C1476.7 447.8 1474.3 450.2 1472.0 452.0C1469.7 453.8 1467.3 455.3 1466.0 458.0C1464.7 460.7 1464.3 464.3 1464.0 468.0C1463.7 471.7 1463.7 476.3 1464.0 480.0C1464.3 483.7 1465.0 487.0 1466.0 490.0C1467.0 493.0 1468.3 495.7 1470.0 498.0C1471.7 500.3 1473.7 502.8 1476.0 504.0C1478.3 505.2 1481.7 505.2 1484.0 505.0C1486.3 504.8 1488.3 504.2 1490.0 503.0C1491.7 501.8 1492.8 499.8 1494.0 498.0C1495.2 496.2 1495.3 493.5 1497.0 492.0C1498.7 490.5 1501.5 489.5 1504.0 489.0C1506.5 488.5 1510.7 488.2 1512.0 489.0C1513.3 489.8 1512.5 491.8 1512.0 494.0C1511.5 496.2 1510.0 499.3 1509.0 502.0C1508.0 504.7 1506.8 507.3 1506.0 510.0C1505.2 512.7 1503.0 516.7 1504.0 518.0C1505.0 519.3 1509.3 518.0 1512.0 518.0C1514.7 518.0 1517.7 517.5 1520.0 518.0C1522.3 518.5 1524.5 519.7 1526.0 521.0C1527.5 522.3 1528.8 523.5 1529.0 526.0C1529.2 528.5 1527.2 533.0 1527.0 536.0C1526.8 539.0 1527.2 541.7 1528.0 544.0C1528.8 546.3 1530.3 548.5 1532.0 550.0C1533.7 551.5 1535.7 552.8 1538.0 553.0C1540.3 553.2 1543.7 550.8 1546.0 551.0C1548.3 551.2 1550.3 552.8 1552.0 554.0C1553.7 555.2 1554.7 558.3 1556.0 558.0C1557.3 557.7 1558.0 554.3 1560.0 552.0C1562.0 549.7 1565.3 546.2 1568.0 544.0C1570.7 541.8 1573.5 540.3 1576.0 539.0C1578.5 537.7 1581.7 535.8 1583.0 536.0C1584.3 536.2 1584.5 538.7 1584.0 540.0C1583.5 541.3 1580.3 542.0 1580.0 544.0C1579.7 546.0 1581.3 552.0 1582.0 552.0C1582.7 552.0 1582.7 546.0 1584.0 544.0C1585.3 542.0 1587.3 540.0 1590.0 540.0C1592.7 540.0 1597.0 543.0 1600.0 544.0C1603.0 545.0 1604.7 545.8 1608.0 546.0C1611.3 546.2 1616.3 544.8 1620.0 545.0C1623.7 545.2 1628.0 545.8 1630.0 547.0C1632.0 548.2 1630.3 550.2 1632.0 552.0C1633.7 553.8 1637.0 555.7 1640.0 558.0C1643.0 560.3 1646.7 564.2 1650.0 566.0C1653.3 567.8 1656.7 568.0 1660.0 569.0C1663.3 570.0 1667.3 570.2 1670.0 572.0C1672.7 573.8 1674.3 577.7 1676.0 580.0C1677.7 582.3 1679.0 583.0 1680.0 586.0C1681.0 589.0 1680.3 595.2 1682.0 598.0C1683.7 600.8 1686.7 601.7 1690.0 603.0C1693.3 604.3 1699.0 604.3 1702.0 606.0C1705.0 607.7 1705.0 611.8 1708.0 613.0C1711.0 614.2 1715.7 612.2 1720.0 613.0C1724.3 613.8 1729.7 615.8 1734.0 618.0C1738.3 620.2 1743.2 623.3 1746.0 626.0C1748.8 628.7 1750.5 631.0 1751.0 634.0C1751.5 637.0 1750.5 640.3 1749.0 644.0C1747.5 647.7 1744.2 652.3 1742.0 656.0C1739.8 659.7 1737.7 662.3 1736.0 666.0C1734.3 669.7 1733.0 673.7 1732.0 678.0C1731.0 682.3 1731.0 687.3 1730.0 692.0C1729.0 696.7 1727.7 701.7 1726.0 706.0C1724.3 710.3 1723.7 715.2 1720.0 718.0C1716.3 720.8 1708.3 721.0 1704.0 723.0C1699.7 725.0 1696.7 727.2 1694.0 730.0C1691.3 732.8 1689.7 736.3 1688.0 740.0C1686.3 743.7 1685.7 748.3 1684.0 752.0C1682.3 755.7 1680.0 759.0 1678.0 762.0C1676.0 765.0 1673.7 767.3 1672.0 770.0C1670.3 772.7 1670.0 775.8 1668.0 778.0C1666.0 780.2 1663.7 782.0 1660.0 783.0C1656.3 784.0 1647.7 782.5 1646.0 784.0C1644.3 785.5 1649.5 789.3 1650.0 792.0C1650.5 794.7 1650.3 797.7 1649.0 800.0C1647.7 802.3 1644.8 804.5 1642.0 806.0C1639.2 807.5 1635.0 808.3 1632.0 809.0C1629.0 809.7 1625.5 808.7 1624.0 810.0C1622.5 811.3 1624.0 815.3 1623.0 817.0C1622.0 818.7 1619.8 819.2 1618.0 820.0C1616.2 820.8 1612.8 821.0 1612.0 822.0C1611.2 823.0 1612.0 825.0 1613.0 826.0C1614.0 827.0 1617.3 827.0 1618.0 828.0C1618.7 829.0 1618.0 830.7 1617.0 832.0C1616.0 833.3 1613.5 834.3 1612.0 836.0C1610.5 837.7 1609.7 839.7 1608.0 842.0C1606.3 844.3 1602.8 847.7 1602.0 850.0C1601.2 852.3 1601.8 854.3 1603.0 856.0C1604.2 857.7 1608.5 858.3 1609.0 860.0C1609.5 861.7 1607.5 864.0 1606.0 866.0C1604.5 868.0 1601.8 869.7 1600.0 872.0C1598.2 874.3 1596.0 877.0 1595.0 880.0C1594.0 883.0 1593.8 887.0 1594.0 890.0C1594.2 893.0 1594.7 895.7 1596.0 898.0C1597.3 900.3 1599.5 902.2 1602.0 904.0C1604.5 905.8 1610.0 907.5 1611.0 909.0C1612.0 910.5 1610.2 911.8 1608.0 913.0C1605.8 914.2 1601.3 915.8 1598.0 916.0C1594.7 916.2 1591.0 915.3 1588.0 914.0C1585.0 912.7 1582.7 910.3 1580.0 908.0C1577.3 905.7 1573.8 903.0 1572.0 900.0C1570.2 897.0 1570.2 892.7 1569.0 890.0C1567.8 887.3 1565.5 886.0 1565.0 884.0C1564.5 882.0 1566.3 880.3 1566.0 878.0C1565.7 875.7 1563.7 872.3 1563.0 870.0C1562.3 867.7 1561.7 866.0 1562.0 864.0C1562.3 862.0 1565.2 859.5 1565.0 858.0C1564.8 856.5 1560.8 856.7 1561.0 855.0C1561.2 853.3 1564.8 850.2 1566.0 848.0C1567.2 845.8 1567.0 843.7 1568.0 842.0C1569.0 840.3 1572.2 839.3 1572.0 838.0C1571.8 836.7 1567.7 836.3 1567.0 834.0C1566.3 831.7 1567.3 828.3 1568.0 824.0C1568.7 819.7 1570.0 813.3 1571.0 808.0C1572.0 802.7 1572.8 797.3 1574.0 792.0C1575.2 786.7 1577.0 781.3 1578.0 776.0C1579.0 770.7 1579.3 766.0 1580.0 760.0C1580.7 754.0 1581.2 745.3 1582.0 740.0C1582.8 734.7 1584.2 732.7 1585.0 728.0C1585.8 723.3 1586.5 717.0 1587.0 712.0C1587.5 707.0 1588.5 702.0 1588.0 698.0C1587.5 694.0 1586.3 690.7 1584.0 688.0C1581.7 685.3 1577.3 683.7 1574.0 682.0C1570.7 680.3 1566.7 679.7 1564.0 678.0C1561.3 676.3 1560.0 675.3 1558.0 672.0C1556.0 668.7 1554.0 662.7 1552.0 658.0C1550.0 653.3 1548.3 648.0 1546.0 644.0C1543.7 640.0 1539.7 637.3 1538.0 634.0C1536.3 630.7 1535.7 626.7 1536.0 624.0C1536.3 621.3 1539.8 619.7 1540.0 618.0C1540.2 616.3 1537.2 616.0 1537.0 614.0C1536.8 612.0 1537.8 609.3 1539.0 606.0C1540.2 602.7 1541.8 598.0 1544.0 594.0C1546.2 590.0 1550.5 585.0 1552.0 582.0C1553.5 579.0 1553.2 578.7 1553.0 576.0C1552.8 573.3 1551.8 569.0 1551.0 566.0C1550.2 563.0 1549.2 559.3 1548.0 558.0C1546.8 556.7 1544.8 557.3 1544.0 558.0C1543.2 558.7 1544.0 561.2 1543.0 562.0C1542.0 562.8 1540.2 563.5 1538.0 563.0C1535.8 562.5 1532.7 560.5 1530.0 559.0C1527.3 557.5 1524.3 555.8 1522.0 554.0C1519.7 552.2 1517.7 550.0 1516.0 548.0C1514.3 546.0 1513.3 544.0 1512.0 542.0C1510.7 540.0 1509.7 537.2 1508.0 536.0C1506.3 534.8 1504.3 535.8 1502.0 535.0C1499.7 534.2 1497.0 532.7 1494.0 531.0C1491.0 529.3 1487.3 526.7 1484.0 525.0C1480.7 523.3 1477.3 521.8 1474.0 521.0C1470.7 520.2 1468.0 521.2 1464.0 520.0C1460.0 518.8 1454.3 516.0 1450.0 514.0C1445.7 512.0 1441.7 510.3 1438.0 508.0C1434.3 505.7 1430.0 502.3 1428.0 500.0C1426.0 497.7 1427.0 496.3 1426.0 494.0C1425.0 491.7 1423.7 488.7 1422.0 486.0C1420.3 483.3 1418.3 481.0 1416.0 478.0C1413.7 475.0 1410.7 471.7 1408.0 468.0C1405.3 464.3 1402.3 459.3 1400.0 456.0C1397.7 452.7 1395.5 450.5 1394.0 448.0C1392.5 445.5 1392.0 442.6 1391.0 441.0C1390.0 439.4 1388.8 438.6 1388.0 438.4C1387.2 438.2 1386.1 438.4 1386.4 440.0C1386.7 441.6 1388.4 445.0 1390.0 448.0C1391.6 451.0 1394.0 454.7 1396.0 458.0C1398.0 461.3 1400.2 465.0 1402.0 468.0C1403.8 471.0 1405.8 473.8 1407.0 476.0C1408.2 478.2 1409.2 479.8 1409.0 481.0C1408.8 482.2 1407.5 483.8 1406.0 483.0C1404.5 482.2 1402.0 478.5 1400.0 476.0C1398.0 473.5 1396.0 470.7 1394.0 468.0C1392.0 465.3 1389.7 462.3 1388.0 460.0C1386.3 457.7 1385.7 457.0 1384.0 454.0C1382.3 451.0 1379.8 445.3 1378.0 442.0C1376.2 438.7 1374.7 437.0 1373.0 434.0C1371.3 431.0 1369.8 427.0 1368.0 424.0C1366.2 421.0 1364.3 419.0 1362.0 416.0C1359.7 413.0 1356.7 409.3 1354.0 406.0C1351.3 402.7 1348.2 399.7 1346.0 396.0C1343.8 392.3 1342.0 388.3 1341.0 384.0C1340.0 379.7 1340.0 374.3 1340.0 370.0C1340.0 365.7 1341.0 362.0 1341.0 358.0C1341.0 354.0 1339.8 349.3 1340.0 346.0C1340.2 342.7 1340.8 340.1 1342.0 338.0C1343.2 335.9 1347.8 335.2 1347.5 333.5C1347.2 331.7 1343.0 329.7 1340.0 327.5C1337.0 325.2 1332.2 322.2 1329.5 320.0C1326.7 317.7 1324.6 316.0 1323.5 314.0C1322.4 312.0 1323.5 309.2 1322.7 308.0C1322.0 306.7 1319.9 307.5 1319.0 306.5C1318.1 305.5 1318.5 303.2 1317.5 302.0C1316.5 300.7 1314.2 300.5 1313.0 299.0C1311.7 297.5 1311.2 294.1 1310.0 293.0C1308.7 291.9 1307.0 292.1 1305.5 292.2C1304.0 292.4 1302.2 294.4 1301.0 293.7C1299.7 293.1 1298.6 290.2 1298.0 288.5C1297.4 286.7 1298.2 284.5 1297.2 283.2C1296.2 282.0 1293.6 282.4 1292.0 281.0C1290.4 279.6 1289.2 277.2 1287.5 275.0C1285.7 272.7 1283.7 269.7 1281.5 267.5C1279.2 265.2 1276.0 263.2 1274.0 261.5C1272.0 259.7 1270.7 257.9 1269.5 257.0C1268.2 256.1 1268.7 256.5 1266.5 256.2C1264.2 256.0 1259.7 255.9 1256.0 255.5C1252.2 255.1 1247.1 254.4 1244.0 254.0C1240.9 253.6 1238.5 254.0 1237.2 253.2C1236.0 252.5 1237.2 250.2 1236.5 249.5C1235.7 248.7 1233.4 247.9 1232.7 248.7C1232.1 249.6 1233.6 253.2 1232.7 254.7C1231.9 256.2 1229.6 256.9 1227.5 257.7C1225.4 258.6 1222.2 259.4 1220.0 260.0C1217.7 260.6 1215.2 261.7 1214.0 261.5C1212.7 261.2 1212.5 260.2 1212.5 258.5C1212.5 256.7 1214.0 252.0 1214.0 251.0C1214.0 250.0 1213.5 251.0 1212.5 252.5C1211.5 254.0 1208.9 257.9 1208.0 260.0C1207.1 262.1 1208.2 263.5 1207.2 265.2C1206.2 267.0 1204.4 268.6 1202.0 270.5C1199.6 272.4 1196.0 274.4 1193.0 276.5C1190.0 278.6 1187.0 281.1 1184.0 283.2C1181.0 285.4 1178.0 287.7 1175.0 289.2C1172.0 290.7 1168.9 291.1 1166.0 292.2C1163.1 293.4 1159.6 295.6 1157.7 296.0C1155.9 296.4 1154.4 295.2 1154.7 294.5C1155.1 293.7 1158.4 292.7 1160.0 291.5C1161.6 290.2 1162.5 288.4 1164.5 287.0C1166.5 285.6 1169.1 284.7 1172.0 283.2C1174.9 281.7 1179.5 279.9 1181.7 278.0C1184.0 276.1 1184.7 274.1 1185.5 272.0C1186.2 269.9 1186.9 266.2 1186.2 265.2C1185.6 264.2 1183.4 266.2 1181.7 266.0C1180.1 265.7 1178.1 263.9 1176.5 263.7C1174.9 263.6 1173.4 265.5 1172.0 265.2C1170.6 265.0 1169.2 263.6 1168.2 262.2C1167.2 260.9 1167.4 258.0 1166.0 257.0C1164.6 256.0 1162.0 257.0 1160.0 256.2C1158.0 255.5 1155.5 254.4 1154.0 252.5C1152.5 250.6 1151.9 247.2 1151.0 245.0C1150.1 242.7 1149.1 239.8 1148.7 239.0C1148.4 238.2 1147.7 241.1 1148.8 240.0Z"/>
<path d="M1576.2 88.8C1576.2 86.9 1578.5 86.0 1582.5 83.8C1586.5 81.5 1596.9 78.1 1600.0 75.0C1603.1 71.9 1600.0 67.7 1601.2 65.0C1602.5 62.3 1603.1 60.6 1607.5 58.8C1611.9 56.9 1623.3 56.0 1627.5 53.8C1631.7 51.5 1627.1 47.3 1632.5 45.0C1637.9 42.7 1654.4 39.8 1660.0 40.0C1665.6 40.2 1664.2 46.0 1666.2 46.2C1668.3 46.5 1670.6 42.7 1672.5 41.2C1674.4 39.8 1673.8 38.5 1677.5 37.5C1681.2 36.5 1691.2 36.2 1695.0 35.0C1698.8 33.8 1693.3 31.0 1700.0 30.0C1706.7 29.0 1726.7 29.6 1735.0 28.8C1743.3 27.9 1743.3 25.6 1750.0 25.0C1756.7 24.4 1767.9 24.4 1775.0 25.0C1782.1 25.6 1786.7 26.9 1792.5 28.8C1798.3 30.6 1806.9 34.2 1810.0 36.2C1813.1 38.3 1813.5 39.6 1811.2 41.2C1809.0 42.9 1796.9 45.6 1796.2 46.2C1795.6 46.9 1805.2 43.8 1807.5 45.0C1809.8 46.2 1807.1 52.9 1810.0 53.8C1812.9 54.6 1820.4 51.3 1825.0 50.0C1829.6 48.7 1832.9 46.2 1837.5 45.8C1842.1 45.3 1849.6 46.2 1852.5 47.5C1855.4 48.8 1856.2 51.5 1855.0 53.8C1853.8 56.0 1848.3 59.2 1845.0 61.2C1841.7 63.3 1838.3 64.0 1835.0 66.2C1831.7 68.5 1828.3 71.5 1825.0 75.0C1821.7 78.5 1815.4 84.4 1815.0 87.5C1814.6 90.6 1820.4 91.5 1822.5 93.8C1824.6 96.0 1827.9 99.2 1827.5 101.2C1827.1 103.3 1820.6 103.5 1820.0 106.2C1819.4 109.0 1823.1 113.5 1823.8 117.5C1824.4 121.5 1824.8 126.9 1823.8 130.0C1822.7 133.1 1819.8 134.2 1817.5 136.2C1815.2 138.3 1812.9 140.2 1810.0 142.5C1807.1 144.8 1799.8 147.1 1800.0 150.0C1800.2 152.9 1809.6 156.7 1811.2 160.0C1812.9 163.3 1812.7 169.6 1810.0 170.0C1807.3 170.4 1797.7 161.7 1795.0 162.5C1792.3 163.3 1795.4 171.2 1793.8 175.0C1792.1 178.8 1790.2 182.3 1785.0 185.0C1779.8 187.7 1767.5 188.8 1762.5 191.2C1757.5 193.8 1758.8 197.1 1755.0 200.0C1751.2 202.9 1744.6 206.7 1740.0 208.8C1735.4 210.8 1730.4 209.8 1727.5 212.5C1724.6 215.2 1724.2 221.5 1722.5 225.0C1720.8 228.5 1718.3 231.2 1717.5 233.8C1716.7 236.2 1718.1 237.1 1717.5 240.0C1716.9 242.9 1715.4 248.8 1713.8 251.2C1712.1 253.8 1710.2 255.2 1707.5 255.0C1704.8 254.8 1700.8 251.9 1697.5 250.0C1694.2 248.1 1690.4 246.7 1687.5 243.8C1684.6 240.8 1682.5 236.9 1680.0 232.5C1677.5 228.1 1675.0 222.5 1672.5 217.5C1670.0 212.5 1666.7 206.7 1665.0 202.5C1663.3 198.3 1662.9 192.9 1662.5 192.5C1662.1 192.1 1662.1 200.4 1662.5 200.0C1662.9 199.6 1662.9 193.3 1665.0 190.0C1667.1 186.7 1674.2 182.5 1675.0 180.0C1675.8 177.5 1672.1 175.4 1670.0 175.0C1667.9 174.6 1664.6 177.9 1662.5 177.5C1660.4 177.1 1657.9 174.6 1657.5 172.5C1657.1 170.4 1657.5 166.5 1660.0 165.0C1662.5 163.5 1672.1 165.2 1672.5 163.8C1672.9 162.3 1665.0 157.1 1662.5 156.2C1660.0 155.4 1659.0 159.8 1657.5 158.8C1656.0 157.7 1654.6 153.5 1653.8 150.0C1652.9 146.5 1654.0 141.7 1652.5 137.5C1651.0 133.3 1647.9 128.8 1645.0 125.0C1642.1 121.2 1638.8 117.3 1635.0 115.0C1631.2 112.7 1627.1 111.7 1622.5 111.2C1617.9 110.8 1612.5 112.7 1607.5 112.5C1602.5 112.3 1596.5 111.7 1592.5 110.0C1588.5 108.3 1582.5 104.6 1583.8 102.5C1585.0 100.4 1600.2 98.8 1600.0 97.5C1599.8 96.2 1586.5 96.5 1582.5 95.0C1578.5 93.5 1576.2 90.6 1576.2 88.8Z"/>
<path d="M456.2 155.0C456.7 152.7 460.2 149.2 462.5 146.2C464.8 143.3 467.1 141.7 470.0 137.5C472.9 133.3 475.8 125.4 480.0 121.2C484.2 117.1 488.3 115.2 495.0 112.5C501.7 109.8 513.3 106.5 520.0 105.0C526.7 103.5 531.9 103.5 535.0 103.8C538.1 104.0 539.2 104.8 538.8 106.2C538.3 107.7 536.9 110.6 532.5 112.5C528.1 114.4 518.8 115.4 512.5 117.5C506.2 119.6 499.6 121.7 495.0 125.0C490.4 128.3 487.7 132.9 485.0 137.5C482.3 142.1 478.8 148.3 478.8 152.5C478.8 156.7 484.8 160.0 485.0 162.5C485.2 165.0 482.5 167.3 480.0 167.5C477.5 167.7 473.3 165.0 470.0 163.8C466.7 162.5 462.3 161.5 460.0 160.0C457.7 158.5 455.8 157.3 456.2 155.0ZM864.2 299.6C864.6 296.1 865.5 295.6 866.6 294.8C867.7 294.0 869.6 293.6 870.6 294.8C871.7 296.0 872.4 298.8 873.0 302.0C873.7 305.2 873.8 309.9 874.6 314.0C875.4 318.2 877.4 323.7 877.8 326.9C878.2 330.1 878.0 332.5 877.0 333.3C876.1 334.1 873.3 330.9 872.2 331.7C871.2 332.5 870.4 335.7 870.6 338.1C870.9 340.5 873.4 343.8 873.8 346.1C874.2 348.4 874.1 350.7 873.0 351.7C872.0 352.8 868.8 353.2 867.4 352.5C866.0 351.9 865.0 350.1 864.5 347.7C864.0 345.3 864.4 341.6 864.5 338.1C864.7 334.6 865.3 330.6 865.3 326.9C865.3 323.1 864.7 320.2 864.5 315.7C864.3 311.1 863.9 303.1 864.2 299.6ZM854.6 373.4C854.9 371.5 856.2 368.8 857.8 367.0C859.4 365.1 863.0 364.0 864.2 362.1C865.4 360.3 863.9 356.8 865.0 355.7C866.1 354.7 868.6 354.9 870.6 355.7C872.6 356.5 874.4 359.6 877.0 360.5C879.7 361.5 885.1 360.5 886.7 361.3C888.3 362.1 888.0 363.9 886.7 365.4C885.3 366.8 881.0 368.8 878.6 370.2C876.2 371.5 874.4 372.6 872.2 373.4C870.1 374.2 867.7 374.2 865.8 375.0C863.9 375.8 862.6 377.6 861.0 378.2C859.4 378.7 857.3 379.0 856.2 378.2C855.1 377.4 854.3 375.2 854.6 373.4ZM712.0 503.0C712.3 501.7 712.8 499.9 714.0 499.0C715.2 498.1 717.5 497.2 719.0 497.4C720.5 497.6 722.4 498.6 723.0 500.0C723.6 501.4 723.4 504.4 722.4 506.0C721.4 507.6 718.7 509.2 717.0 509.4C715.3 509.6 713.2 508.1 712.4 507.0C711.6 505.9 711.7 504.3 712.0 503.0ZM764.0 478.0C764.2 475.7 764.8 473.3 766.0 472.0C767.2 470.7 769.7 469.7 771.0 470.0C772.3 470.3 773.7 472.0 774.0 474.0C774.3 476.0 773.8 479.7 773.0 482.0C772.2 484.3 770.3 487.3 769.0 488.0C767.7 488.7 765.8 487.7 765.0 486.0C764.2 484.3 763.8 480.3 764.0 478.0ZM856.2 386.2C857.3 384.6 858.1 382.2 859.4 381.4C860.7 380.6 863.0 380.3 864.2 381.4C865.4 382.5 866.5 385.4 866.6 387.8C866.7 390.2 865.7 393.1 865.0 395.8C864.3 398.5 863.3 401.4 862.6 403.8C861.9 406.2 861.5 408.1 861.0 410.2C860.5 412.4 860.5 415.1 859.4 416.7C858.3 418.3 856.7 419.0 854.6 419.9C852.5 420.7 849.5 420.8 846.6 421.8C843.6 422.7 839.9 424.7 837.0 425.5C834.0 426.3 831.1 425.9 828.9 426.6C826.8 427.3 825.7 429.5 824.1 429.5C822.5 429.4 820.9 427.1 819.3 426.3C817.7 425.5 814.8 425.7 814.5 424.7C814.2 423.6 816.1 421.2 817.7 419.9C819.3 418.5 821.7 417.7 824.1 416.7C826.5 415.6 829.5 414.5 832.1 413.4C834.8 412.4 838.0 412.1 840.2 410.2C842.3 408.4 843.4 404.4 845.0 402.2C846.6 400.1 848.4 399.3 849.8 397.4C851.1 395.5 851.9 392.9 853.0 391.0C854.1 389.1 855.1 387.8 856.2 386.2ZM808.1 427.9C808.8 426.0 811.3 424.9 812.9 424.7C814.5 424.4 816.5 425.2 817.7 426.3C818.9 427.3 820.4 429.2 820.1 431.1C819.9 433.0 817.4 435.9 816.1 437.5C814.8 439.1 813.3 441.0 812.1 440.7C810.9 440.4 809.6 438.0 808.9 435.9C808.2 433.8 807.4 429.7 808.1 427.9ZM651.0 574.0C651.0 572.3 653.5 571.0 656.0 572.0C658.5 573.0 662.3 577.0 666.0 580.0C669.7 583.0 674.3 586.7 678.0 590.0C681.7 593.3 684.7 597.0 688.0 600.0C691.3 603.0 695.5 605.7 698.0 608.0C700.5 610.3 702.3 611.3 703.0 614.0C703.7 616.7 702.8 621.3 702.0 624.0C701.2 626.7 700.0 630.0 698.0 630.0C696.0 630.0 692.7 626.7 690.0 624.0C687.3 621.3 684.7 617.3 682.0 614.0C679.3 610.7 677.0 607.7 674.0 604.0C671.0 600.3 667.0 595.7 664.0 592.0C661.0 588.3 658.2 585.0 656.0 582.0C653.8 579.0 651.0 575.7 651.0 574.0ZM698.0 632.0C699.3 631.0 702.3 629.8 706.0 630.0C709.7 630.2 715.3 631.8 720.0 633.0C724.7 634.2 730.0 635.5 734.0 637.0C738.0 638.5 740.3 641.0 744.0 642.0C747.7 643.0 753.3 642.5 756.0 643.0C758.7 643.5 759.7 644.0 760.0 645.0C760.3 646.0 760.7 648.5 758.0 649.0C755.3 649.5 748.7 648.8 744.0 648.0C739.3 647.2 734.7 645.2 730.0 644.0C725.3 642.8 720.3 641.8 716.0 641.0C711.7 640.2 707.0 639.8 704.0 639.0C701.0 638.2 699.0 637.2 698.0 636.0C697.0 634.8 696.7 633.0 698.0 632.0ZM760.0 650.0C760.3 649.1 762.6 648.1 764.0 648.4C765.4 648.7 767.9 650.9 768.4 652.0C768.9 653.1 768.0 654.7 767.0 655.0C766.0 655.3 763.6 654.4 762.4 653.6C761.2 652.8 759.7 650.9 760.0 650.0ZM763.0 643.0C764.4 642.5 769.0 642.3 772.0 642.4C775.0 642.5 779.7 643.0 781.0 643.6C782.3 644.2 781.7 645.6 780.0 646.0C778.3 646.4 773.7 646.1 771.0 646.0C768.3 645.9 764.9 645.7 763.6 645.2C762.3 644.7 761.6 643.5 763.0 643.0ZM778.0 653.0C778.5 651.8 781.7 648.7 784.0 647.0C786.3 645.3 789.7 643.8 792.0 643.0C794.3 642.2 797.5 641.7 798.0 642.4C798.5 643.1 796.7 645.6 795.0 647.0C793.3 648.4 790.3 649.8 788.0 651.0C785.7 652.2 782.7 654.1 781.0 654.4C779.3 654.7 777.5 654.2 778.0 653.0ZM712.0 594.0C713.3 590.7 720.0 589.0 724.0 586.0C728.0 583.0 732.0 579.0 736.0 576.0C740.0 573.0 744.3 568.7 748.0 568.0C751.7 567.3 755.8 570.8 758.0 572.0C760.2 573.2 761.3 573.7 761.0 575.0C760.7 576.3 757.2 577.8 756.0 580.0C754.8 582.2 753.7 585.7 754.0 588.0C754.3 590.3 758.3 592.0 758.0 594.0C757.7 596.0 753.3 597.7 752.0 600.0C750.7 602.3 750.7 605.0 750.0 608.0C749.3 611.0 749.7 615.7 748.0 618.0C746.3 620.3 743.0 621.7 740.0 622.0C737.0 622.3 733.0 621.3 730.0 620.0C727.0 618.7 724.3 616.3 722.0 614.0C719.7 611.7 717.7 609.3 716.0 606.0C714.3 602.7 710.7 597.3 712.0 594.0ZM760.0 600.0C761.3 597.5 762.7 596.2 766.0 595.0C769.3 593.8 776.5 593.2 780.0 593.0C783.5 592.8 787.0 593.2 787.0 594.0C787.0 594.8 782.8 596.7 780.0 598.0C777.2 599.3 772.0 600.3 770.0 602.0C768.0 603.7 767.3 607.3 768.0 608.0C768.7 608.7 772.3 605.8 774.0 606.0C775.7 606.2 778.3 607.7 778.0 609.0C777.7 610.3 773.0 611.8 772.0 614.0C771.0 616.2 772.7 620.0 772.0 622.0C771.3 624.0 769.2 626.7 768.0 626.0C766.8 625.3 766.0 618.7 765.0 618.0C764.0 617.3 762.7 620.0 762.0 622.0C761.3 624.0 761.7 630.3 761.0 630.0C760.3 629.7 758.5 623.3 758.0 620.0C757.5 616.7 757.7 613.3 758.0 610.0C758.3 606.7 758.7 602.5 760.0 600.0ZM763.0 522.0C762.3 517.5 764.7 511.0 766.0 508.0C767.3 505.0 769.3 503.8 771.0 504.0C772.7 504.2 775.0 506.3 776.0 509.0C777.0 511.7 777.0 516.8 777.0 520.0C777.0 523.2 775.2 525.3 776.0 528.0C776.8 530.7 780.0 533.3 782.0 536.0C784.0 538.7 787.2 541.7 788.0 544.0C788.8 546.3 788.3 549.8 787.0 550.0C785.7 550.2 782.2 546.7 780.0 545.0C777.8 543.3 775.7 541.7 774.0 540.0C772.3 538.3 771.8 538.0 770.0 535.0C768.2 532.0 763.7 526.5 763.0 522.0ZM772.0 560.0C772.7 558.0 777.3 555.5 780.0 554.0C782.7 552.5 785.7 551.0 788.0 551.0C790.3 551.0 792.7 552.2 794.0 554.0C795.3 555.8 796.3 559.3 796.0 562.0C795.7 564.7 793.3 567.8 792.0 570.0C790.7 572.2 789.7 575.3 788.0 575.0C786.3 574.7 784.0 569.5 782.0 568.0C780.0 566.5 777.7 567.3 776.0 566.0C774.3 564.7 771.3 562.0 772.0 560.0ZM751.4 559.6C751.5 558.0 753.6 553.5 755.0 551.0C756.4 548.5 758.7 545.4 760.0 544.4C761.3 543.4 762.6 543.7 762.6 545.0C762.6 546.3 761.4 549.8 760.0 552.4C758.6 555.0 755.8 559.4 754.4 560.6C753.0 561.8 751.3 561.2 751.4 559.6ZM798.0 593.0C798.3 591.7 800.8 590.7 802.0 591.0C803.2 591.3 805.1 593.7 805.4 595.0C805.7 596.3 804.9 598.3 804.0 599.0C803.1 599.7 801.0 600.0 800.0 599.0C799.0 598.0 797.7 594.3 798.0 593.0ZM790.0 618.0C790.1 617.1 791.7 615.6 793.0 615.6C794.3 615.6 796.9 617.1 797.6 618.0C798.3 618.9 797.9 620.5 797.0 621.0C796.1 621.5 793.6 621.5 792.4 621.0C791.2 620.5 789.9 618.9 790.0 618.0ZM800.0 616.0C800.3 615.1 803.8 614.1 806.0 614.4C808.2 614.7 812.0 616.5 813.0 617.6C814.0 618.7 813.5 620.6 812.0 621.0C810.5 621.4 806.0 620.8 804.0 620.0C802.0 619.2 799.7 616.9 800.0 616.0ZM658.0 594.0C658.2 593.1 659.8 592.1 660.6 592.4C661.4 592.7 662.8 594.9 663.0 596.0C663.2 597.1 662.6 598.7 662.0 599.0C661.4 599.3 660.1 598.4 659.4 597.6C658.7 596.8 657.8 594.9 658.0 594.0ZM665.0 607.0C665.3 606.3 666.9 605.3 667.6 605.6C668.3 605.9 669.3 608.0 669.4 609.0C669.5 610.0 668.6 611.4 668.0 611.6C667.4 611.8 666.5 610.8 666.0 610.0C665.5 609.2 664.7 607.7 665.0 607.0ZM706.0 615.6C706.0 614.8 708.2 613.9 709.0 614.0C709.8 614.1 710.6 615.6 710.6 616.4C710.6 617.2 709.8 619.1 709.0 619.0C708.2 618.9 706.0 616.4 706.0 615.6ZM814.0 606.0C814.3 604.2 817.7 601.3 820.0 601.0C822.3 600.7 825.7 601.8 828.0 604.0C830.3 606.2 831.3 613.2 834.0 614.0C836.7 614.8 840.3 609.3 844.0 609.0C847.7 608.7 851.7 610.2 856.0 612.0C860.3 613.8 865.3 617.3 870.0 620.0C874.7 622.7 880.3 625.7 884.0 628.0C887.7 630.3 891.0 632.2 892.0 634.0C893.0 635.8 889.0 636.7 890.0 639.0C891.0 641.3 895.7 645.3 898.0 648.0C900.3 650.7 903.7 653.5 904.0 655.0C904.3 656.5 902.7 657.8 900.0 657.0C897.3 656.2 891.3 652.2 888.0 650.0C884.7 647.8 883.0 644.5 880.0 644.0C877.0 643.5 873.3 646.3 870.0 647.0C866.7 647.7 863.0 649.2 860.0 648.0C857.0 646.8 854.7 640.7 852.0 640.0C849.3 639.3 844.7 644.7 844.0 644.0C843.3 643.3 848.7 638.7 848.0 636.0C847.3 633.3 843.0 630.0 840.0 628.0C837.0 626.0 833.0 625.7 830.0 624.0C827.0 622.3 824.0 620.0 822.0 618.0C820.0 616.0 819.3 614.0 818.0 612.0C816.7 610.0 813.7 607.8 814.0 606.0ZM584.0 556.0C584.2 554.2 584.7 553.3 585.5 552.5C586.3 551.7 587.8 551.0 589.0 551.2C590.2 551.5 591.5 552.5 592.5 554.0C593.5 555.5 594.3 557.8 594.8 560.0C595.2 562.2 595.5 565.1 595.2 567.0C594.9 568.9 594.0 570.7 593.0 571.5C592.0 572.3 590.6 572.4 589.5 572.0C588.4 571.6 587.3 570.5 586.5 569.0C585.7 567.5 584.9 565.2 584.5 563.0C584.1 560.8 583.8 557.8 584.0 556.0ZM282.0 402.0C282.0 400.8 284.8 399.4 287.0 399.0C289.2 398.6 293.2 399.1 295.0 399.6C296.8 400.1 298.2 400.8 298.0 402.0C297.8 403.2 295.8 406.3 294.0 407.0C292.2 407.7 289.0 406.8 287.0 406.0C285.0 405.2 282.0 403.2 282.0 402.0ZM200.2 265.1C201.4 264.3 204.2 263.7 205.5 263.0C206.9 262.3 207.4 260.9 208.2 260.8C209.0 260.7 210.1 261.5 210.3 262.4C210.6 263.4 209.2 265.5 209.8 266.7C210.4 267.9 213.2 268.7 214.1 269.9C215.0 271.2 215.3 272.6 215.2 274.2C215.0 275.8 212.8 278.1 213.0 279.5C213.2 280.9 215.2 281.5 216.2 282.7C217.3 284.0 218.5 285.2 219.4 287.0C220.3 288.8 220.7 291.3 221.6 293.4C222.5 295.5 223.5 298.2 224.8 299.8C226.0 301.4 227.7 301.9 229.0 303.0C230.4 304.1 232.3 305.0 232.8 306.2C233.2 307.5 232.5 309.1 231.7 310.5C230.9 311.9 229.3 313.3 228.0 314.8C226.6 316.2 225.7 318.0 223.7 319.0C221.7 320.1 218.5 320.6 216.2 321.2C213.9 321.7 211.9 321.9 209.8 322.2C207.7 322.6 205.2 322.8 203.4 323.3C201.6 323.8 200.0 325.6 199.1 325.4C198.2 325.3 197.9 323.5 198.1 322.2C198.2 321.0 199.3 319.2 200.2 318.0C201.1 316.7 203.4 315.7 203.4 314.8C203.4 313.9 200.4 313.5 200.2 312.6C200.0 311.7 201.4 310.5 202.3 309.4C203.2 308.4 204.7 307.5 205.5 306.2C206.3 305.0 207.1 303.4 207.1 301.9C207.1 300.5 206.3 299.1 205.5 297.7C204.7 296.3 203.2 294.7 202.3 293.4C201.4 292.2 200.9 291.3 200.2 290.2C199.5 289.1 199.0 287.9 198.1 287.0C197.2 286.1 195.7 285.6 194.9 284.9C194.1 284.1 193.3 283.6 193.3 282.7C193.3 281.8 194.8 280.6 194.9 279.5C194.9 278.5 193.6 277.6 193.8 276.3C194.0 275.1 195.2 273.5 195.9 272.0C196.6 270.6 197.4 268.9 198.1 267.8C198.8 266.6 199.0 265.9 200.2 265.1ZM176.7 297.7C176.7 295.7 177.6 293.8 178.8 292.3C180.1 290.9 182.0 289.8 184.2 289.1C186.3 288.4 189.5 288.1 191.7 288.1C193.8 288.1 195.9 288.4 197.0 289.1C198.1 289.8 198.2 291.3 198.1 292.3C197.9 293.4 196.3 293.9 195.9 295.5C195.6 297.1 196.1 299.8 195.9 301.9C195.7 304.1 195.6 306.8 194.9 308.4C194.1 310.0 193.3 310.7 191.7 311.6C190.1 312.5 187.4 313.2 185.2 313.7C183.1 314.2 180.4 314.9 178.8 314.8C177.2 314.6 175.8 313.7 175.6 312.6C175.5 311.6 177.2 309.8 177.8 308.4C178.3 306.9 179.0 305.9 178.8 304.1C178.7 302.3 176.7 299.6 176.7 297.7ZM416.0 718.0C416.0 713.3 418.3 705.3 419.0 700.0C419.7 694.7 418.8 689.3 420.0 686.0C421.2 682.7 423.7 681.7 426.0 680.0C428.3 678.3 431.7 678.3 434.0 676.0C436.3 673.7 438.2 668.5 440.0 666.0C441.8 663.5 443.5 661.3 445.0 661.0C446.5 660.7 448.2 661.5 449.0 664.0C449.8 666.5 450.5 671.7 450.0 676.0C449.5 680.3 447.2 685.7 446.0 690.0C444.8 694.3 444.2 697.7 443.0 702.0C441.8 706.3 440.5 711.7 439.0 716.0C437.5 720.3 436.2 725.3 434.0 728.0C431.8 730.7 428.5 732.0 426.0 732.0C423.5 732.0 420.7 730.3 419.0 728.0C417.3 725.7 416.0 722.7 416.0 718.0ZM732.0 724.0C732.7 721.0 734.3 716.5 736.0 714.0C737.7 711.5 739.0 710.3 742.0 709.0C745.0 707.7 750.0 707.3 754.0 706.0C758.0 704.7 763.0 703.0 766.0 701.0C769.0 699.0 770.0 696.8 772.0 694.0C774.0 691.2 776.0 687.0 778.0 684.0C780.0 681.0 781.3 678.2 784.0 676.0C786.7 673.8 790.7 671.7 794.0 671.0C797.3 670.3 801.3 673.2 804.0 672.0C806.7 670.8 808.7 666.2 810.0 664.0C811.3 661.8 810.3 660.0 812.0 659.0C813.7 658.0 816.7 657.7 820.0 658.0C823.3 658.3 828.5 660.0 832.0 661.0C835.5 662.0 840.0 662.3 841.0 664.0C842.0 665.7 838.5 669.0 838.0 671.0C837.5 673.0 836.7 674.2 838.0 676.0C839.3 677.8 843.3 680.0 846.0 682.0C848.7 684.0 851.8 687.2 854.0 688.0C856.2 688.8 857.8 689.3 859.0 687.0C860.2 684.7 860.3 678.5 861.0 674.0C861.7 669.5 862.0 663.0 863.0 660.0C864.0 657.0 865.7 655.8 867.0 656.0C868.3 656.2 870.2 658.3 871.0 661.0C871.8 663.7 870.7 669.5 872.0 672.0C873.3 674.5 877.2 673.3 879.0 676.0C880.8 678.7 880.8 684.0 883.0 688.0C885.2 692.0 889.2 696.0 892.0 700.0C894.8 704.0 897.3 708.3 900.0 712.0C902.7 715.7 905.3 718.7 908.0 722.0C910.7 725.3 914.3 728.3 916.0 732.0C917.7 735.7 917.7 740.0 918.0 744.0C918.3 748.0 918.7 752.0 918.0 756.0C917.3 760.0 915.7 764.0 914.0 768.0C912.3 772.0 910.0 776.0 908.0 780.0C906.0 784.0 904.0 788.3 902.0 792.0C900.0 795.7 898.3 799.2 896.0 802.0C893.7 804.8 890.7 808.0 888.0 809.0C885.3 810.0 882.7 808.0 880.0 808.0C877.3 808.0 875.0 809.7 872.0 809.0C869.0 808.3 865.0 805.8 862.0 804.0C859.0 802.2 856.3 800.7 854.0 798.0C851.7 795.3 849.7 790.7 848.0 788.0C846.3 785.3 845.2 782.3 844.0 782.0C842.8 781.7 842.0 785.8 841.0 786.0C840.0 786.2 839.5 784.3 838.0 783.0C836.5 781.7 834.0 779.8 832.0 778.0C830.0 776.2 828.7 773.7 826.0 772.0C823.3 770.3 819.7 768.7 816.0 768.0C812.3 767.3 808.0 767.3 804.0 768.0C800.0 768.7 796.0 770.7 792.0 772.0C788.0 773.3 784.0 774.3 780.0 776.0C776.0 777.7 772.0 780.3 768.0 782.0C764.0 783.7 759.7 785.2 756.0 786.0C752.3 786.8 748.7 787.7 746.0 787.0C743.3 786.3 740.8 784.2 740.0 782.0C739.2 779.8 740.5 776.7 741.0 774.0C741.5 771.3 743.5 769.3 743.0 766.0C742.5 762.7 739.5 758.0 738.0 754.0C736.5 750.0 735.0 745.7 734.0 742.0C733.0 738.3 732.3 735.0 732.0 732.0C731.7 729.0 731.3 727.0 732.0 724.0ZM875.0 821.0C876.0 819.2 881.0 819.2 884.0 819.0C887.0 818.8 891.5 818.5 893.0 820.0C894.5 821.5 893.8 825.3 893.0 828.0C892.2 830.7 889.7 834.3 888.0 836.0C886.3 837.7 884.7 839.0 883.0 838.0C881.3 837.0 879.3 832.8 878.0 830.0C876.7 827.2 874.0 822.8 875.0 821.0ZM1005.3 785.7C1005.4 784.8 1006.4 783.5 1007.3 783.2C1008.2 782.9 1009.9 783.0 1010.9 783.7C1011.8 784.4 1012.2 785.7 1012.9 787.3C1013.6 788.9 1014.2 792.2 1014.9 793.4C1015.7 794.5 1016.4 793.4 1017.5 794.4C1018.6 795.4 1020.0 798.3 1021.5 799.4C1023.0 800.5 1024.7 800.8 1026.6 801.0C1028.5 801.1 1031.5 800.2 1032.7 800.5C1033.9 800.7 1034.0 801.1 1033.7 802.5C1033.4 803.8 1031.8 806.5 1030.7 808.6C1029.5 810.6 1027.8 812.6 1026.6 814.7C1025.4 816.7 1024.6 819.0 1023.6 820.8C1022.5 822.5 1021.7 824.4 1020.5 825.3C1019.3 826.3 1017.5 826.6 1016.4 826.3C1015.3 826.1 1014.2 825.2 1013.9 823.8C1013.6 822.4 1014.8 819.4 1014.4 817.7C1014.0 816.0 1012.3 814.8 1011.4 813.7C1010.4 812.5 1009.1 811.5 1008.8 810.6C1008.6 809.7 1009.3 808.7 1009.8 808.1C1010.4 807.4 1012.0 808.0 1012.4 806.5C1012.7 805.1 1012.4 801.6 1011.9 799.4C1011.4 797.2 1010.3 795.1 1009.3 793.4C1008.4 791.6 1007.0 790.1 1006.3 788.8C1005.6 787.5 1005.1 786.7 1005.3 785.7ZM1003.2 818.7C1004.4 818.6 1006.8 819.2 1008.3 819.7C1009.8 820.3 1011.8 821.1 1012.4 822.3C1013.0 823.5 1012.4 825.1 1011.9 826.9C1011.4 828.6 1010.3 831.3 1009.3 832.9C1008.4 834.6 1006.7 835.8 1006.3 837.0C1005.9 838.2 1007.6 839.2 1006.8 840.1C1006.0 840.9 1002.8 840.9 1001.2 842.1C999.6 843.3 998.3 845.3 997.2 847.2C996.0 849.0 995.5 851.6 994.1 853.2C992.8 854.9 990.9 856.1 989.0 857.3C987.2 858.5 984.6 860.1 982.9 860.4C981.3 860.6 980.2 859.7 979.4 858.8C978.5 858.0 978.4 856.7 977.9 855.3C977.4 853.8 976.3 851.7 976.3 850.2C976.3 848.7 976.8 847.7 977.9 846.1C979.0 844.6 981.1 842.6 982.9 841.1C984.8 839.5 987.0 838.5 989.0 837.0C991.1 835.5 993.6 833.8 995.1 831.9C996.6 830.1 997.2 827.7 998.2 825.8C999.2 824.0 1000.4 821.9 1001.2 820.8C1002.1 819.6 1002.1 818.9 1003.2 818.7ZM1640.0 338.0C1640.2 336.4 1642.5 333.0 1644.0 330.0C1645.5 327.0 1647.2 322.5 1649.0 320.0C1650.8 317.5 1654.2 314.7 1655.0 315.0C1655.8 315.3 1653.5 320.2 1654.0 322.0C1654.5 323.8 1656.3 324.8 1658.0 326.0C1659.7 327.2 1663.2 327.7 1664.0 329.0C1664.8 330.3 1662.3 331.7 1663.0 334.0C1663.7 336.3 1668.5 341.8 1668.0 343.0C1667.5 344.2 1663.0 341.7 1660.0 341.0C1657.0 340.3 1652.8 339.2 1650.0 339.0C1647.2 338.8 1644.7 339.8 1643.0 339.6C1641.3 339.4 1639.8 339.6 1640.0 338.0ZM1322.0 320.0C1322.5 319.5 1325.0 319.9 1328.0 321.5C1331.0 323.1 1337.0 327.4 1340.0 329.7C1343.0 332.1 1345.5 334.5 1346.0 335.7C1346.5 337.0 1345.0 338.0 1343.0 337.2C1341.0 336.5 1337.0 333.4 1334.0 331.2C1331.0 329.1 1327.0 326.1 1325.0 324.2C1323.0 322.3 1321.5 320.4 1322.0 320.0ZM1370.0 160.0C1371.0 158.3 1377.7 156.0 1378.0 154.0C1378.3 152.0 1371.7 149.8 1372.0 148.0C1372.3 146.2 1377.3 143.5 1380.0 143.0C1382.7 142.5 1384.7 145.3 1388.0 145.0C1391.3 144.7 1396.3 141.2 1400.0 141.0C1403.7 140.8 1406.7 144.3 1410.0 144.0C1413.3 143.7 1417.0 140.2 1420.0 139.0C1423.0 137.8 1426.3 136.2 1428.0 137.0C1429.7 137.8 1430.0 141.2 1430.0 144.0C1430.0 146.8 1427.0 151.3 1428.0 154.0C1429.0 156.7 1433.3 157.7 1436.0 160.0C1438.7 162.3 1443.3 165.7 1444.0 168.0C1444.7 170.3 1440.0 172.3 1440.0 174.0C1440.0 175.7 1444.7 176.7 1444.0 178.0C1443.3 179.3 1440.0 181.7 1436.0 182.0C1432.0 182.3 1425.0 180.7 1420.0 180.0C1415.0 179.3 1411.0 178.0 1406.0 178.0C1401.0 178.0 1395.0 180.2 1390.0 180.0C1385.0 179.8 1378.7 178.3 1376.0 177.0C1373.3 175.7 1373.3 173.8 1374.0 172.0C1374.7 170.2 1380.3 167.3 1380.0 166.0C1379.7 164.7 1373.7 165.0 1372.0 164.0C1370.3 163.0 1369.0 161.7 1370.0 160.0ZM1348.0 112.0C1349.0 110.2 1355.0 105.2 1360.0 103.0C1365.0 100.8 1375.3 98.5 1378.0 99.0C1380.7 99.5 1377.7 104.2 1376.0 106.0C1374.3 107.8 1370.3 108.5 1368.0 110.0C1365.7 111.5 1364.3 114.3 1362.0 115.0C1359.7 115.7 1356.3 114.5 1354.0 114.0C1351.7 113.5 1347.0 113.8 1348.0 112.0ZM1374.0 120.0C1372.5 117.7 1374.7 113.8 1377.0 112.0C1379.3 110.2 1384.2 109.2 1388.0 109.0C1391.8 108.8 1397.0 111.7 1400.0 111.0C1403.0 110.3 1404.3 105.8 1406.0 105.0C1407.7 104.2 1408.3 104.5 1410.0 106.0C1411.7 107.5 1413.3 112.2 1416.0 114.0C1418.7 115.8 1425.0 115.5 1426.0 117.0C1427.0 118.5 1425.3 121.8 1422.0 123.0C1418.7 124.2 1410.3 123.2 1406.0 124.0C1401.7 124.8 1399.3 127.7 1396.0 128.0C1392.7 128.3 1389.7 127.3 1386.0 126.0C1382.3 124.7 1375.5 122.3 1374.0 120.0ZM1391.0 87.0C1392.0 86.0 1399.0 85.0 1402.0 85.0C1405.0 85.0 1408.3 86.2 1409.0 87.0C1409.7 87.8 1408.2 89.3 1406.0 90.0C1403.8 90.7 1398.5 91.5 1396.0 91.0C1393.5 90.5 1390.0 88.0 1391.0 87.0ZM1392.0 95.0C1393.5 94.2 1399.8 92.8 1402.0 93.0C1404.2 93.2 1405.7 95.0 1405.0 96.0C1404.3 97.0 1400.0 98.7 1398.0 99.0C1396.0 99.3 1394.0 98.7 1393.0 98.0C1392.0 97.3 1390.5 95.8 1392.0 95.0ZM1427.0 79.0C1427.7 77.7 1430.8 76.5 1434.0 77.0C1437.2 77.5 1442.7 80.2 1446.0 82.0C1449.3 83.8 1452.3 86.3 1454.0 88.0C1455.7 89.7 1457.0 91.3 1456.0 92.0C1455.0 92.7 1451.0 93.0 1448.0 92.0C1445.0 91.0 1441.0 87.2 1438.0 86.0C1435.0 84.8 1431.8 86.2 1430.0 85.0C1428.2 83.8 1426.3 80.3 1427.0 79.0ZM1432.0 107.0C1431.7 105.5 1434.0 104.7 1436.0 105.0C1438.0 105.3 1441.3 108.8 1444.0 109.0C1446.7 109.2 1449.3 105.7 1452.0 106.0C1454.7 106.3 1458.2 109.0 1460.0 111.0C1461.8 113.0 1463.3 115.8 1463.0 118.0C1462.7 120.2 1459.8 123.3 1458.0 124.0C1456.2 124.7 1454.0 123.3 1452.0 122.0C1450.0 120.7 1448.3 117.3 1446.0 116.0C1443.7 114.7 1440.3 115.5 1438.0 114.0C1435.7 112.5 1432.3 108.5 1432.0 107.0ZM1461.0 86.0C1461.7 84.7 1465.8 84.5 1468.0 85.0C1470.2 85.5 1473.3 87.5 1474.0 89.0C1474.7 90.5 1473.7 93.3 1472.0 94.0C1470.3 94.7 1465.8 94.3 1464.0 93.0C1462.2 91.7 1460.3 87.3 1461.0 86.0ZM1470.0 96.0C1471.0 95.3 1478.0 94.7 1480.0 95.0C1482.0 95.3 1483.0 97.3 1482.0 98.0C1481.0 98.7 1476.0 99.3 1474.0 99.0C1472.0 98.7 1469.0 96.7 1470.0 96.0ZM1492.0 97.0C1492.7 96.3 1496.8 95.7 1498.0 96.0C1499.2 96.3 1499.7 98.3 1499.0 99.0C1498.3 99.7 1495.2 100.3 1494.0 100.0C1492.8 99.7 1491.3 97.7 1492.0 97.0ZM1425.0 96.0C1424.8 94.8 1427.0 94.3 1428.0 95.0C1429.0 95.7 1430.8 98.8 1431.0 100.0C1431.2 101.2 1430.0 102.7 1429.0 102.0C1428.0 101.3 1425.2 97.2 1425.0 96.0ZM1431.0 120.0C1431.3 119.3 1433.3 118.7 1434.0 119.0C1434.7 119.3 1435.3 121.3 1435.0 122.0C1434.7 122.7 1432.7 123.3 1432.0 123.0C1431.3 122.7 1430.7 120.7 1431.0 120.0ZM1470.0 64.0C1472.0 62.0 1478.0 60.7 1484.0 60.0C1490.0 59.3 1501.3 58.7 1506.0 60.0C1510.7 61.3 1510.0 65.3 1512.0 68.0C1514.0 70.7 1518.3 73.7 1518.0 76.0C1517.7 78.3 1513.0 80.0 1510.0 82.0C1507.0 84.0 1503.7 87.3 1500.0 88.0C1496.3 88.7 1491.7 87.3 1488.0 86.0C1484.3 84.7 1480.7 82.3 1478.0 80.0C1475.3 77.7 1473.3 74.7 1472.0 72.0C1470.7 69.3 1468.0 66.0 1470.0 64.0ZM1514.0 66.0C1514.0 64.4 1516.3 63.7 1520.0 64.4C1523.7 65.1 1530.7 68.1 1536.0 70.0C1541.3 71.9 1547.0 74.0 1552.0 76.0C1557.0 78.0 1563.5 80.3 1566.0 82.0C1568.5 83.7 1569.3 84.0 1567.0 86.0C1564.7 88.0 1554.5 91.7 1552.0 94.0C1549.5 96.3 1554.7 99.0 1552.0 100.0C1549.3 101.0 1540.0 99.0 1536.0 100.0C1532.0 101.0 1527.3 105.2 1528.0 106.0C1528.7 106.8 1536.0 105.0 1540.0 105.0C1544.0 105.0 1550.3 105.2 1552.0 106.0C1553.7 106.8 1555.3 109.3 1550.0 110.0C1544.7 110.7 1528.3 110.3 1520.0 110.0C1511.7 109.7 1503.0 109.2 1500.0 108.0C1497.0 106.8 1500.3 104.5 1502.0 103.0C1503.7 101.5 1509.3 100.7 1510.0 99.0C1510.7 97.3 1505.3 95.2 1506.0 93.0C1506.7 90.8 1511.7 87.5 1514.0 86.0C1516.3 84.5 1518.0 85.0 1520.0 84.0C1522.0 83.0 1526.0 81.7 1526.0 80.0C1526.0 78.3 1522.0 76.3 1520.0 74.0C1518.0 71.7 1514.0 67.6 1514.0 66.0ZM1468.0 105.0C1468.7 103.8 1472.0 102.7 1476.0 103.0C1480.0 103.3 1488.3 105.5 1492.0 107.0C1495.7 108.5 1498.0 110.3 1498.0 112.0C1498.0 113.7 1491.7 115.8 1492.0 117.0C1492.3 118.2 1495.3 118.8 1500.0 119.0C1504.7 119.2 1513.3 118.2 1520.0 118.0C1526.7 117.8 1535.8 117.3 1540.0 118.0C1544.2 118.7 1545.0 120.5 1545.0 122.0C1545.0 123.5 1544.2 126.2 1540.0 127.0C1535.8 127.8 1526.7 127.5 1520.0 127.0C1513.3 126.5 1505.3 125.0 1500.0 124.0C1494.7 123.0 1490.7 122.7 1488.0 121.0C1485.3 119.3 1486.7 115.8 1484.0 114.0C1481.3 112.2 1474.7 111.5 1472.0 110.0C1469.3 108.5 1467.3 106.2 1468.0 105.0ZM1468.0 120.0C1468.7 118.8 1472.0 117.7 1474.0 118.0C1476.0 118.3 1478.7 120.7 1480.0 122.0C1481.3 123.3 1482.7 125.2 1482.0 126.0C1481.3 126.8 1478.0 127.2 1476.0 127.0C1474.0 126.8 1471.3 126.2 1470.0 125.0C1468.7 123.8 1467.3 121.2 1468.0 120.0ZM1440.0 144.0C1440.0 141.3 1444.7 137.8 1448.0 136.0C1451.3 134.2 1457.3 132.7 1460.0 133.0C1462.7 133.3 1464.0 136.2 1464.0 138.0C1464.0 139.8 1459.3 143.3 1460.0 144.0C1460.7 144.7 1467.0 141.0 1468.0 142.0C1469.0 143.0 1467.3 147.3 1466.0 150.0C1464.7 152.7 1462.0 156.7 1460.0 158.0C1458.0 159.3 1456.0 159.0 1454.0 158.0C1452.0 157.0 1450.3 154.3 1448.0 152.0C1445.7 149.7 1440.0 146.7 1440.0 144.0ZM1474.0 135.0C1476.0 133.0 1480.3 132.2 1484.0 132.0C1487.7 131.8 1494.7 132.8 1496.0 134.0C1497.3 135.2 1494.3 137.3 1492.0 139.0C1489.7 140.7 1484.3 142.2 1482.0 144.0C1479.7 145.8 1477.7 147.7 1478.0 150.0C1478.3 152.3 1482.0 155.0 1484.0 158.0C1486.0 161.0 1489.3 165.5 1490.0 168.0C1490.7 170.5 1489.7 171.3 1488.0 173.0C1486.3 174.7 1482.5 178.0 1480.0 178.0C1477.5 178.0 1474.8 175.3 1473.0 173.0C1471.2 170.7 1469.5 167.2 1469.0 164.0C1468.5 160.8 1469.5 157.3 1470.0 154.0C1470.5 150.7 1471.3 147.2 1472.0 144.0C1472.7 140.8 1472.0 137.0 1474.0 135.0ZM1456.0 178.0C1456.7 176.3 1461.3 173.3 1464.0 173.0C1466.7 172.7 1469.7 174.8 1472.0 176.0C1474.3 177.2 1477.7 178.7 1478.0 180.0C1478.3 181.3 1475.7 183.7 1474.0 184.0C1472.3 184.3 1470.3 182.2 1468.0 182.0C1465.7 181.8 1462.0 183.7 1460.0 183.0C1458.0 182.3 1455.3 179.7 1456.0 178.0ZM1498.0 148.0C1499.0 144.8 1502.3 141.2 1506.0 139.0C1509.7 136.8 1518.3 134.2 1520.0 135.0C1521.7 135.8 1516.7 141.2 1516.0 144.0C1515.3 146.8 1515.0 149.7 1516.0 152.0C1517.0 154.3 1521.7 159.0 1522.0 158.0C1522.3 157.0 1518.0 149.2 1518.0 146.0C1518.0 142.8 1519.7 140.5 1522.0 139.0C1524.3 137.5 1529.0 136.2 1532.0 137.0C1535.0 137.8 1537.3 142.0 1540.0 144.0C1542.7 146.0 1548.0 150.3 1548.0 149.0C1548.0 147.7 1539.3 137.8 1540.0 136.0C1540.7 134.2 1548.7 136.7 1552.0 138.0C1555.3 139.3 1560.0 142.5 1560.0 144.0C1560.0 145.5 1551.3 146.0 1552.0 147.0C1552.7 148.0 1559.3 148.2 1564.0 150.0C1568.7 151.8 1577.0 156.0 1580.0 158.0C1583.0 160.0 1579.3 160.3 1582.0 162.0C1584.7 163.7 1592.7 166.0 1596.0 168.0C1599.3 170.0 1600.7 172.0 1602.0 174.0C1603.3 176.0 1604.7 178.7 1604.0 180.0C1603.3 181.3 1597.7 180.7 1598.0 182.0C1598.3 183.3 1601.0 185.0 1606.0 188.0C1611.0 191.0 1625.7 196.0 1628.0 200.0C1630.3 204.0 1623.3 210.7 1620.0 212.0C1616.7 213.3 1611.3 209.3 1608.0 208.0C1604.7 206.7 1601.0 203.3 1600.0 204.0C1599.0 204.7 1600.0 209.3 1602.0 212.0C1604.0 214.7 1610.3 217.3 1612.0 220.0C1613.7 222.7 1613.7 227.0 1612.0 228.0C1610.3 229.0 1603.0 224.7 1602.0 226.0C1601.0 227.3 1606.3 234.0 1606.0 236.0C1605.7 238.0 1603.0 239.3 1600.0 238.0C1597.0 236.7 1591.3 231.0 1588.0 228.0C1584.7 225.0 1583.0 221.7 1580.0 220.0C1577.0 218.3 1574.0 218.0 1570.0 218.0C1566.0 218.0 1559.0 220.5 1556.0 220.0C1553.0 219.5 1550.3 216.5 1552.0 215.0C1553.7 213.5 1562.7 213.2 1566.0 211.0C1569.3 208.8 1569.0 203.8 1572.0 202.0C1575.0 200.2 1583.3 201.3 1584.0 200.0C1584.7 198.7 1578.3 196.3 1576.0 194.0C1573.7 191.7 1572.7 188.0 1570.0 186.0C1567.3 184.0 1562.0 183.2 1560.0 182.0C1558.0 180.8 1557.0 179.7 1558.0 179.0C1559.0 178.3 1565.7 179.2 1566.0 178.0C1566.3 176.8 1563.0 173.5 1560.0 172.0C1557.0 170.5 1551.3 169.2 1548.0 169.0C1544.7 168.8 1544.7 171.0 1540.0 171.0C1535.3 171.0 1525.7 169.8 1520.0 169.0C1514.3 168.2 1509.3 167.2 1506.0 166.0C1502.7 164.8 1501.0 163.3 1500.0 162.0C1499.0 160.7 1500.3 160.3 1500.0 158.0C1499.7 155.7 1497.0 151.2 1498.0 148.0ZM1512.0 226.0C1511.3 223.2 1512.7 211.3 1516.0 210.0C1519.3 208.7 1528.0 215.7 1532.0 218.0C1536.0 220.3 1540.0 223.2 1540.0 224.0C1540.0 224.8 1535.3 222.5 1532.0 223.0C1528.7 223.5 1523.3 226.5 1520.0 227.0C1516.7 227.5 1512.7 228.8 1512.0 226.0ZM1335.0 148.8C1335.0 145.0 1337.5 135.4 1340.0 132.5C1342.5 129.6 1344.2 130.8 1350.0 131.2C1355.8 131.7 1370.0 133.5 1375.0 135.0C1380.0 136.5 1381.7 138.1 1380.0 140.0C1378.3 141.9 1368.8 142.9 1365.0 146.2C1361.2 149.6 1360.4 157.5 1357.5 160.0C1354.6 162.5 1350.4 162.1 1347.5 161.2C1344.6 160.4 1342.1 157.1 1340.0 155.0C1337.9 152.9 1335.0 152.5 1335.0 148.8ZM1500.0 46.2C1502.1 43.1 1506.2 42.7 1512.5 41.2C1518.8 39.8 1532.1 38.8 1537.5 37.5C1542.9 36.2 1538.8 34.6 1545.0 33.8C1551.2 32.9 1565.8 32.9 1575.0 32.5C1584.2 32.1 1595.0 30.8 1600.0 31.2C1605.0 31.7 1600.8 34.0 1605.0 35.0C1609.2 36.0 1620.8 36.5 1625.0 37.5C1629.2 38.5 1632.5 39.2 1630.0 41.2C1627.5 43.3 1612.7 47.9 1610.0 50.0C1607.3 52.1 1615.4 51.9 1613.8 53.8C1612.1 55.6 1605.2 58.5 1600.0 61.2C1594.8 64.0 1587.9 67.7 1582.5 70.0C1577.1 72.3 1570.2 72.9 1567.5 75.0C1564.8 77.1 1567.9 80.0 1566.2 82.5C1564.6 85.0 1560.2 87.9 1557.5 90.0C1554.8 92.1 1554.2 93.8 1550.0 95.0C1545.8 96.2 1538.3 96.7 1532.5 97.5C1526.7 98.3 1519.2 100.2 1515.0 100.0C1510.8 99.8 1509.0 97.3 1507.5 96.2C1506.0 95.2 1504.6 94.8 1506.2 93.8C1507.9 92.7 1514.0 91.9 1517.5 90.0C1521.0 88.1 1527.9 85.0 1527.5 82.5C1527.1 80.0 1517.5 77.7 1515.0 75.0C1512.5 72.3 1510.8 67.9 1512.5 66.2C1514.2 64.6 1520.8 66.0 1525.0 65.0C1529.2 64.0 1534.0 61.2 1537.5 60.0C1541.0 58.8 1548.3 57.3 1546.2 57.5C1544.2 57.7 1530.6 61.0 1525.0 61.2C1519.4 61.5 1516.7 59.0 1512.5 58.8C1508.3 58.5 1502.1 62.1 1500.0 60.0C1497.9 57.9 1497.9 49.4 1500.0 46.2ZM1500.0 102.5C1504.2 100.8 1516.7 100.0 1525.0 100.0C1533.3 100.0 1545.4 101.2 1550.0 102.5C1554.6 103.8 1554.6 106.2 1552.5 107.5C1550.4 108.8 1546.2 109.6 1537.5 110.0C1528.8 110.4 1506.2 111.2 1500.0 110.0C1493.8 108.8 1495.8 104.2 1500.0 102.5ZM1500.0 117.5C1504.2 116.0 1517.7 116.0 1525.0 116.2C1532.3 116.5 1540.4 117.5 1543.8 118.8C1547.1 120.0 1547.3 122.3 1545.0 123.8C1542.7 125.2 1537.5 127.3 1530.0 127.5C1522.5 127.7 1505.0 126.7 1500.0 125.0C1495.0 123.3 1495.8 119.0 1500.0 117.5ZM190.6 268.8C190.7 267.9 192.0 265.8 192.7 265.1C193.4 264.4 194.6 264.1 194.9 264.6C195.1 265.0 194.5 266.7 194.0 267.8C193.5 268.8 192.4 270.8 191.9 271.0C191.3 271.2 190.4 269.8 190.6 268.8ZM1470.0 56.0C1469.3 53.2 1475.0 50.0 1478.0 48.0C1481.0 46.0 1483.7 45.0 1488.0 44.0C1492.3 43.0 1501.8 41.0 1504.0 42.0C1506.2 43.0 1500.7 47.3 1501.0 50.0C1501.3 52.7 1506.8 56.0 1506.0 58.0C1505.2 60.0 1500.0 60.8 1496.0 62.0C1492.0 63.2 1486.3 66.0 1482.0 65.0C1477.7 64.0 1470.7 58.8 1470.0 56.0Z"/>
<!--/LAND-->
</g>
<g id="circuit" fill="none" stroke="#bcd6d6" stroke-opacity="0.55" mask="url(#lm)">
<!--CIRCUIT-->
<g stroke-width="1.3">
<path d="M462 273L523.6 273L597 201L618 201L618 150"/>
<path d="M619.7 202.5L640.7 223.5L732 223.5L807 150"/>
<path d="M640.7 225L640.7 286.6L651 297L780 297L840 357"/>
<path d="M525 274.5L525 360L465 420"/>
<path d="M302 195L316 209L390 209L390 190"/>
<path d="M468 195L468 230"/>
<path d="M277.5 243L277.5 300"/>
<path d="M301.5 243L301.5 300"/>
<path d="M396.7 243L420 262L462 273"/>
<path d="M444.7 243L444.7 282"/>
<path d="M444.7 291L444.7 330L470 345"/>
<path d="M539.5 291L539.5 329"/>
<path d="M611.3 291L611.3 420"/>
<path d="M599.6 220L599.6 282"/>
<path d="M491.5 338L491.5 380L470 400"/>
<path d="M539.5 338L539.5 420"/>
<path d="M634.7 339L634.7 440"/>
<path d="M660 310L770 310L830 370"/>
<path d="M668 323L760 323L812 375"/>
<path d="M680 336L750 336L800 386"/>
<path d="M690 349L742 349L790 397"/>
<path d="M660 310L660 440"/>
<path d="M668 323L668 450"/>
<path d="M680 336L680 460"/>
<path d="M690 349L690 470"/>
<path d="M552 300L552 400L570 418"/>
<path d="M576 300L576 396L600 420"/>
<path d="M330 262L450 262"/>
<path d="M330 275L440 275"/>
<path d="M310 300L310 330L360 330"/>
<path d="M729.8 196.5L729.8 219"/>
<path d="M813.9 220.5L813.9 290"/>
<path d="M825.3 340.5L825.3 380"/>
<path d="M480 409.5L480 448.5"/>
<path d="M480 457.5L480 480"/>
<path d="M500 420L560 420L600 460L600 500"/>
<path d="M700 380L700 470L720 490"/>
<path d="M560 440L560 480"/>
<path d="M620 440L660 480L700 480"/>
<path d="M830 335.7L845 335.7"/>
<path d="M937.6 217.3L951.4 217.3"/>
<path d="M961.4 217.3L975.3 217.3"/>
<path d="M985.3 217.3L999.2 217.3"/>
<path d="M1009.2 217.3L1022.6 217.3"/>
<path d="M915 192L1030 192L1045 207L1045 225"/>
<path d="M915 192L915 235L925 245L1030 245"/>
<path d="M925 205L925 232"/>
<path d="M1300 238L1380 328L1443 328L1443 417"/>
<path d="M1458 328L1458 336.5"/>
<path d="M1458 345.5L1458 384.5"/>
<path d="M1474 328L1474 382"/>
<path d="M1489 345L1522 345L1522 417"/>
<path d="M1529 288L1529 336.5"/>
<path d="M1559 278L1628 278"/>
<path d="M1559 278L1559 342L1568 352L1568 390"/>
<path d="M1384 282L1442 282L1486 238"/>
<path d="M1380 296L1442 296L1500 238"/>
<path d="M1380 312L1442 312L1514 240"/>
<path d="M1363 298.5L1363 336.5"/>
<path d="M1363 345.5L1380 362L1410 362L1410 384.5"/>
<path d="M1443 328L1474 296L1474 240"/>
<path d="M1316 298.5L1340 320L1340 360"/>
<path d="M1387 250.5L1387 268L1410 268"/>
<path d="M1529 345.5L1529 417"/>
<path d="M1553 393.5L1553 417"/>
<path d="M1380 352L1426 352L1426 400L1400 426"/>
<path d="M1400 366L1412 366L1412 395"/>
<path d="M1196 249.5L1196 262"/>
<path d="M1220 249.5L1220 258"/>
<path d="M1185 178.5L1200 192L1290 192L1290 240"/>
<path d="M1304 216.5L1304 175"/>
<path d="M1351 216.5L1351 180"/>
<path d="M1304 225.5L1304 262L1330 288"/>
<path d="M1351 225.5L1351 262L1372 283"/>
<path d="M1320 175L1320 262"/>
<path d="M1336 178L1336 262"/>
<path d="M1366 182L1366 262"/>
<path d="M1606 560L1606 636"/>
<path d="M1556 656L1610 656L1678 588"/>
<path d="M1560 671L1611 671L1682 600"/>
<path d="M1662 747L1662 636L1688 610"/>
<path d="M1677 747L1677 636L1700 612"/>
<path d="M1693 636L1748 636"/>
<path d="M1693 636L1693 659.5"/>
<path d="M1693 668.5L1693 707.5"/>
<path d="M1693 716.5L1693 760"/>
<path d="M1584 744L1656 744L1672 760L1672 790"/>
<path d="M1584 760L1650 760L1660 770L1660 800"/>
<path d="M1584 776L1644 776"/>
<path d="M1586 790L1640 790L1640 830"/>
<path d="M1600 806L1600 860"/>
<path d="M184 505.5L184 544.5"/>
<path d="M232 505.5L232 544.5"/>
<path d="M184 553.5L184 575"/>
<path d="M232 553.5L232 575"/>
<path d="M184 496.5L184 470"/>
<path d="M232 496.5L232 470"/>
<path d="M360 456.5L360 500L340 520"/>
<path d="M194 408L194 440"/>
<path d="M208 480L208 570"/>
<path d="M160 480L160 540"/>
<path d="M250 470L250 580"/>
<path d="M420 576L396 582L324 654L324 690L288 728"/>
<path d="M399 601.5L340 660"/>
<path d="M410 590L340 640L300 640"/>
<path d="M339 672.5L339 711.5"/>
<path d="M339 720.5L339 770"/>
<path d="M291 720.5L291 740"/>
<path d="M300 600L370 600L400 570"/>
<path d="M300 614L364 614L396 582"/>
<path d="M290 628L356 628"/>
<path d="M310 668L310 700L296 714"/>
<path d="M355 672L355 760"/>
<path d="M370 672L380 660L380 700"/>
<path d="M778 692L842 692L860 674"/>
<path d="M778 708L842 708L870 680"/>
<path d="M734 724L852 724L859 720"/>
<path d="M856 736L856 786L884 786L908 762"/>
<path d="M871 741L871 771L888 771"/>
<path d="M740 740L790 740"/>
<path d="M754 770L780 770"/>
<path d="M1655 150L1785 150L1800 135"/>
<path d="M1700 150L1700 60"/>
<path d="M1728 150L1728 50"/>
<path d="M1680 117L1680 150"/>
<path d="M1740 195L1720 215L1700 235"/>
<path d="M1732 196L1690 238"/>
</g>
<g stroke-width="3.6" stroke="#c2d8d8">
<circle cx="302" cy="190.5" r="4"/>
<circle cx="468" cy="190.5" r="4"/>
<circle cx="277.5" cy="238.5" r="4"/>
<circle cx="301.5" cy="238.5" r="4"/>
<circle cx="396.7" cy="238.5" r="4"/>
<circle cx="444.7" cy="238.5" r="4"/>
<circle cx="599.6" cy="215.4" r="4"/>
<circle cx="729.8" cy="192" r="4"/>
<circle cx="813.9" cy="216" r="4"/>
<circle cx="444.7" cy="286.6" r="4"/>
<circle cx="539.5" cy="286.6" r="4"/>
<circle cx="611.3" cy="286.6" r="4"/>
<circle cx="491.5" cy="333.7" r="4"/>
<circle cx="539.5" cy="333.7" r="4"/>
<circle cx="634.7" cy="334.6" r="4"/>
<circle cx="825.3" cy="336" r="4"/>
<circle cx="336.6" cy="357" r="4"/>
<circle cx="480" cy="405" r="4"/>
<circle cx="1387" cy="246" r="4"/>
<circle cx="1316" cy="294" r="4"/>
<circle cx="1363" cy="294" r="4"/>
<circle cx="1363" cy="341" r="4"/>
<circle cx="1458" cy="341" r="4"/>
<circle cx="1529" cy="341" r="4"/>
<circle cx="1410" cy="389" r="4"/>
<circle cx="1458" cy="389" r="4"/>
<circle cx="1553" cy="389" r="4"/>
<circle cx="1185" cy="174" r="4"/>
<circle cx="1196" cy="245" r="4"/>
<circle cx="1220" cy="245" r="4"/>
<circle cx="1304" cy="221" r="4"/>
<circle cx="1351" cy="221" r="4"/>
<circle cx="1386" cy="197.5" r="4"/>
<circle cx="1610" cy="640" r="4"/>
<circle cx="1693" cy="664" r="4"/>
<circle cx="1693" cy="712" r="4"/>
<circle cx="184" cy="501" r="4"/>
<circle cx="232" cy="501" r="4"/>
<circle cx="184" cy="549" r="4"/>
<circle cx="232" cy="549" r="4"/>
<circle cx="268" cy="525" r="4"/>
<circle cx="268" cy="573" r="4"/>
<circle cx="360" cy="452" r="4"/>
<circle cx="194" cy="403.5" r="4"/>
<circle cx="480" cy="406" r="4"/>
<circle cx="480" cy="453" r="4"/>
<circle cx="399" cy="597" r="4"/>
<circle cx="339" cy="668" r="4"/>
<circle cx="291" cy="716" r="4"/>
<circle cx="339" cy="716" r="4"/>
<circle cx="433" cy="715" r="4"/>
<circle cx="862.4" cy="718" r="4"/>
<circle cx="1680" cy="112.5" r="4"/>
<circle cx="849.5" cy="335.7" r="4"/>
<circle cx="932.6" cy="217.3" r="4"/>
<circle cx="956.4" cy="217.3" r="4"/>
<circle cx="980.3" cy="217.3" r="4"/>
<circle cx="1004.2" cy="217.3" r="4"/>
<circle cx="1027.6" cy="217.3" r="4"/>
<circle cx="1073.7" cy="215.8" r="4"/>
<circle cx="733" cy="603" r="4"/>
<circle cx="715" cy="603" r="4"/>
</g>
<path stroke-width="10" stroke-linecap="round" opacity="0.6" d="M268 500L268 590"/>
<path stroke-width="10" stroke-linecap="round" opacity="0.6" d="M1386 197.5L1386 246"/>
<!--/CIRCUIT-->
</g>
<g id="lines" fill="none" stroke="#021a56" stroke-width="3" stroke-linejoin="miter">
<path d="M149 272.5H179.5V307H209"/>
<path d="M150 366H191V355H232"/>
<path d="M292 401V425H250V448"/>
<path d="M315 767.5V797.5H258V827"/>
<path d="M610 520H645.5V532H681"/>
<path d="M610 614.5H645.5V579H681"/>
<path d="M610 673H693V590"/>
<path d="M610 735.5H776V531"/>
<path d="M776 484H865V649.5H953"/>
<path d="M799 274H728V390"/>
<path d="M929 390H894V415.5H858"/>
<path d="M805 414V460H929"/>
<path d="M1307 449H1337.5V413H1366"/>
</g>
<g id="dots" fill="#021a56">
<circle cx="209" cy="307.5" r="6"/><circle cx="232" cy="355" r="6"/><circle cx="292" cy="401" r="6"/>
<circle cx="315" cy="767.5" r="6"/><circle cx="681" cy="532" r="6"/><circle cx="681" cy="579" r="6"/>
<circle cx="693" cy="590" r="6"/><circle cx="776" cy="531" r="6"/><circle cx="776" cy="484" r="6"/>
<circle cx="728" cy="390" r="6"/><circle cx="858" cy="415.5" r="6"/><circle cx="805" cy="414" r="6"/>
<circle cx="1366" cy="413" r="6"/>
</g>
</svg>
<h1 id="title"><span style="left:532.00px;transform:scaleX(0.9920)">Worldwide</span> <span style="left:795.55px;transform:scaleX(0.9819)">Install</span> <span style="left:949.80px;transform:scaleX(0.8984)">Base:</span> <span style="left:1087.98px;transform:scaleX(1.0090)">&gt;5000+</span> <span style="left:1280.67px;transform:scaleX(0.9158)">Systems</span></h1>
<div class="lb" style="left:31px;top:248px;width:118px"><span style="transform:scaleX(0.879)">U.K.</span></div>
<div class="lb" style="left:32px;top:342px;width:118px"><span style="transform:scaleX(0.911)">France</span></div>
<div class="lb" style="left:185px;top:448px;width:118px"><span style="transform:scaleX(0.974)">Italy</span></div>
<div class="lb" style="left:161px;top:827px;width:192px;height:47px;line-height:47px"><span style="transform:scaleX(0.952)">South Africa</span></div>
<div class="lb" style="left:457px;top:496px;width:153px;height:47px;line-height:47px"><span style="transform:scaleX(0.930)">Thailand</span></div>
<div class="lb" style="left:457px;top:590px;width:153px"><span style="transform:scaleX(0.923)">Malaysia</span></div>
<div class="lb" style="left:457px;top:649px;width:153px"><span style="transform:scaleX(0.950)">Singapore</span></div>
<div class="lb" style="left:457px;top:712px;width:153px;height:47px;line-height:47px"><span style="transform:scaleX(0.941)">Philippines</span></div>
<div class="lb" style="left:799px;top:248px;width:248px"><span style="transform:scaleX(0.934)">Mainland, China</span></div>
<div class="lb" style="left:929px;top:366px;width:118px"><span style="transform:scaleX(0.914)">Japan</span></div>
<div class="lb" style="left:929px;top:437px;width:118px;height:47px;line-height:47px"><span style="transform:scaleX(0.925)">Korea</span></div>
<div class="lb" style="left:953px;top:625px;width:188px"><span style="transform:scaleX(0.908)">Taiwan, China</span></div>
<div class="lb" style="left:1189px;top:425px;width:118px"><span style="transform:scaleX(0.846)">U.S.A.</span></div>
<div id="upd">Update：2022-07</div>
</body>
</html>
